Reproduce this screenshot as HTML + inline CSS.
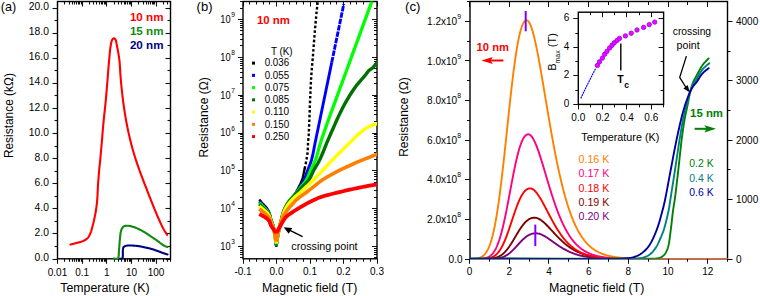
<!DOCTYPE html>
<html><head><meta charset="utf-8"><title>figure</title>
<style>html,body{margin:0;padding:0;background:#fff;width:760px;height:296px;overflow:hidden;position:relative}
svg text{font-family:"Liberation Sans", sans-serif}</style></head>
<body>
<svg width="760" height="296" viewBox="0 0 760 296" style="position:absolute;left:0;top:0" font-family='"Liberation Sans", sans-serif'>
<defs><clipPath id="clipb"><rect x="243.00" y="1.50" width="134.00" height="257.30"/></clipPath><clipPath id="clipc"><rect x="470.00" y="1.50" width="257.50" height="257.30"/></clipPath></defs>
<rect width="760" height="296" fill="#fff"/>
<line x1="52.50" y1="259.50" x2="57.50" y2="259.50" stroke="#111" stroke-width="1.1" />
<line x1="165.50" y1="259.50" x2="170.50" y2="259.50" stroke="#111" stroke-width="1.1" />
<text x="48.90" y="261.10" font-size="10.30" text-anchor="end" fill="#000" font-weight="normal" >0.0</text>
<line x1="54.50" y1="246.50" x2="57.50" y2="246.50" stroke="#111" stroke-width="1.1" />
<line x1="167.50" y1="246.50" x2="170.50" y2="246.50" stroke="#111" stroke-width="1.1" />
<line x1="52.50" y1="233.50" x2="57.50" y2="233.50" stroke="#111" stroke-width="1.1" />
<line x1="165.50" y1="233.50" x2="170.50" y2="233.50" stroke="#111" stroke-width="1.1" />
<text x="48.90" y="236.00" font-size="10.30" text-anchor="end" fill="#000" font-weight="normal" >2.0</text>
<line x1="54.50" y1="221.50" x2="57.50" y2="221.50" stroke="#111" stroke-width="1.1" />
<line x1="167.50" y1="221.50" x2="170.50" y2="221.50" stroke="#111" stroke-width="1.1" />
<line x1="52.50" y1="208.50" x2="57.50" y2="208.50" stroke="#111" stroke-width="1.1" />
<line x1="165.50" y1="208.50" x2="170.50" y2="208.50" stroke="#111" stroke-width="1.1" />
<text x="48.90" y="210.90" font-size="10.30" text-anchor="end" fill="#000" font-weight="normal" >4.0</text>
<line x1="54.50" y1="196.50" x2="57.50" y2="196.50" stroke="#111" stroke-width="1.1" />
<line x1="167.50" y1="196.50" x2="170.50" y2="196.50" stroke="#111" stroke-width="1.1" />
<line x1="52.50" y1="183.50" x2="57.50" y2="183.50" stroke="#111" stroke-width="1.1" />
<line x1="165.50" y1="183.50" x2="170.50" y2="183.50" stroke="#111" stroke-width="1.1" />
<text x="48.90" y="185.80" font-size="10.30" text-anchor="end" fill="#000" font-weight="normal" >6.0</text>
<line x1="54.50" y1="171.50" x2="57.50" y2="171.50" stroke="#111" stroke-width="1.1" />
<line x1="167.50" y1="171.50" x2="170.50" y2="171.50" stroke="#111" stroke-width="1.1" />
<line x1="52.50" y1="158.50" x2="57.50" y2="158.50" stroke="#111" stroke-width="1.1" />
<line x1="165.50" y1="158.50" x2="170.50" y2="158.50" stroke="#111" stroke-width="1.1" />
<text x="48.90" y="160.70" font-size="10.30" text-anchor="end" fill="#000" font-weight="normal" >8.0</text>
<line x1="54.50" y1="146.50" x2="57.50" y2="146.50" stroke="#111" stroke-width="1.1" />
<line x1="167.50" y1="146.50" x2="170.50" y2="146.50" stroke="#111" stroke-width="1.1" />
<line x1="52.50" y1="133.50" x2="57.50" y2="133.50" stroke="#111" stroke-width="1.1" />
<line x1="165.50" y1="133.50" x2="170.50" y2="133.50" stroke="#111" stroke-width="1.1" />
<text x="48.90" y="135.60" font-size="10.30" text-anchor="end" fill="#000" font-weight="normal" >10.0</text>
<line x1="54.50" y1="120.50" x2="57.50" y2="120.50" stroke="#111" stroke-width="1.1" />
<line x1="167.50" y1="120.50" x2="170.50" y2="120.50" stroke="#111" stroke-width="1.1" />
<line x1="52.50" y1="108.50" x2="57.50" y2="108.50" stroke="#111" stroke-width="1.1" />
<line x1="165.50" y1="108.50" x2="170.50" y2="108.50" stroke="#111" stroke-width="1.1" />
<text x="48.90" y="110.50" font-size="10.30" text-anchor="end" fill="#000" font-weight="normal" >12.0</text>
<line x1="54.50" y1="95.50" x2="57.50" y2="95.50" stroke="#111" stroke-width="1.1" />
<line x1="167.50" y1="95.50" x2="170.50" y2="95.50" stroke="#111" stroke-width="1.1" />
<line x1="52.50" y1="83.50" x2="57.50" y2="83.50" stroke="#111" stroke-width="1.1" />
<line x1="165.50" y1="83.50" x2="170.50" y2="83.50" stroke="#111" stroke-width="1.1" />
<text x="48.90" y="85.40" font-size="10.30" text-anchor="end" fill="#000" font-weight="normal" >14.0</text>
<line x1="54.50" y1="70.50" x2="57.50" y2="70.50" stroke="#111" stroke-width="1.1" />
<line x1="167.50" y1="70.50" x2="170.50" y2="70.50" stroke="#111" stroke-width="1.1" />
<line x1="52.50" y1="58.50" x2="57.50" y2="58.50" stroke="#111" stroke-width="1.1" />
<line x1="165.50" y1="58.50" x2="170.50" y2="58.50" stroke="#111" stroke-width="1.1" />
<text x="48.90" y="60.30" font-size="10.30" text-anchor="end" fill="#000" font-weight="normal" >16.0</text>
<line x1="54.50" y1="45.50" x2="57.50" y2="45.50" stroke="#111" stroke-width="1.1" />
<line x1="167.50" y1="45.50" x2="170.50" y2="45.50" stroke="#111" stroke-width="1.1" />
<line x1="52.50" y1="33.50" x2="57.50" y2="33.50" stroke="#111" stroke-width="1.1" />
<line x1="165.50" y1="33.50" x2="170.50" y2="33.50" stroke="#111" stroke-width="1.1" />
<text x="48.90" y="35.20" font-size="10.30" text-anchor="end" fill="#000" font-weight="normal" >18.0</text>
<line x1="54.50" y1="20.50" x2="57.50" y2="20.50" stroke="#111" stroke-width="1.1" />
<line x1="167.50" y1="20.50" x2="170.50" y2="20.50" stroke="#111" stroke-width="1.1" />
<line x1="52.50" y1="8.50" x2="57.50" y2="8.50" stroke="#111" stroke-width="1.1" />
<line x1="165.50" y1="8.50" x2="170.50" y2="8.50" stroke="#111" stroke-width="1.1" />
<text x="48.90" y="10.10" font-size="10.30" text-anchor="end" fill="#000" font-weight="normal" >20.0</text>
<line x1="57.50" y1="258.80" x2="57.50" y2="263.80" stroke="#111" stroke-width="1.1" />
<line x1="57.50" y1="1.50" x2="57.50" y2="6.50" stroke="#111" stroke-width="1.1" />
<line x1="64.50" y1="258.80" x2="64.50" y2="261.80" stroke="#111" stroke-width="1.1" />
<line x1="64.50" y1="1.50" x2="64.50" y2="4.50" stroke="#111" stroke-width="1.1" />
<line x1="69.50" y1="258.80" x2="69.50" y2="261.80" stroke="#111" stroke-width="1.1" />
<line x1="69.50" y1="1.50" x2="69.50" y2="4.50" stroke="#111" stroke-width="1.1" />
<line x1="72.50" y1="258.80" x2="72.50" y2="261.80" stroke="#111" stroke-width="1.1" />
<line x1="72.50" y1="1.50" x2="72.50" y2="4.50" stroke="#111" stroke-width="1.1" />
<line x1="74.50" y1="258.80" x2="74.50" y2="261.80" stroke="#111" stroke-width="1.1" />
<line x1="74.50" y1="1.50" x2="74.50" y2="4.50" stroke="#111" stroke-width="1.1" />
<line x1="76.50" y1="258.80" x2="76.50" y2="261.80" stroke="#111" stroke-width="1.1" />
<line x1="76.50" y1="1.50" x2="76.50" y2="4.50" stroke="#111" stroke-width="1.1" />
<line x1="78.50" y1="258.80" x2="78.50" y2="261.80" stroke="#111" stroke-width="1.1" />
<line x1="78.50" y1="1.50" x2="78.50" y2="4.50" stroke="#111" stroke-width="1.1" />
<line x1="79.50" y1="258.80" x2="79.50" y2="261.80" stroke="#111" stroke-width="1.1" />
<line x1="79.50" y1="1.50" x2="79.50" y2="4.50" stroke="#111" stroke-width="1.1" />
<line x1="81.50" y1="258.80" x2="81.50" y2="261.80" stroke="#111" stroke-width="1.1" />
<line x1="81.50" y1="1.50" x2="81.50" y2="4.50" stroke="#111" stroke-width="1.1" />
<line x1="82.50" y1="258.80" x2="82.50" y2="263.80" stroke="#111" stroke-width="1.1" />
<line x1="82.50" y1="1.50" x2="82.50" y2="6.50" stroke="#111" stroke-width="1.1" />
<line x1="89.50" y1="258.80" x2="89.50" y2="261.80" stroke="#111" stroke-width="1.1" />
<line x1="89.50" y1="1.50" x2="89.50" y2="4.50" stroke="#111" stroke-width="1.1" />
<line x1="93.50" y1="258.80" x2="93.50" y2="261.80" stroke="#111" stroke-width="1.1" />
<line x1="93.50" y1="1.50" x2="93.50" y2="4.50" stroke="#111" stroke-width="1.1" />
<line x1="96.50" y1="258.80" x2="96.50" y2="261.80" stroke="#111" stroke-width="1.1" />
<line x1="96.50" y1="1.50" x2="96.50" y2="4.50" stroke="#111" stroke-width="1.1" />
<line x1="99.50" y1="258.80" x2="99.50" y2="261.80" stroke="#111" stroke-width="1.1" />
<line x1="99.50" y1="1.50" x2="99.50" y2="4.50" stroke="#111" stroke-width="1.1" />
<line x1="101.50" y1="258.80" x2="101.50" y2="261.80" stroke="#111" stroke-width="1.1" />
<line x1="101.50" y1="1.50" x2="101.50" y2="4.50" stroke="#111" stroke-width="1.1" />
<line x1="102.50" y1="258.80" x2="102.50" y2="261.80" stroke="#111" stroke-width="1.1" />
<line x1="102.50" y1="1.50" x2="102.50" y2="4.50" stroke="#111" stroke-width="1.1" />
<line x1="104.50" y1="258.80" x2="104.50" y2="261.80" stroke="#111" stroke-width="1.1" />
<line x1="104.50" y1="1.50" x2="104.50" y2="4.50" stroke="#111" stroke-width="1.1" />
<line x1="105.50" y1="258.80" x2="105.50" y2="261.80" stroke="#111" stroke-width="1.1" />
<line x1="105.50" y1="1.50" x2="105.50" y2="4.50" stroke="#111" stroke-width="1.1" />
<line x1="106.50" y1="258.80" x2="106.50" y2="263.80" stroke="#111" stroke-width="1.1" />
<line x1="106.50" y1="1.50" x2="106.50" y2="6.50" stroke="#111" stroke-width="1.1" />
<line x1="114.50" y1="258.80" x2="114.50" y2="261.80" stroke="#111" stroke-width="1.1" />
<line x1="114.50" y1="1.50" x2="114.50" y2="4.50" stroke="#111" stroke-width="1.1" />
<line x1="118.50" y1="258.80" x2="118.50" y2="261.80" stroke="#111" stroke-width="1.1" />
<line x1="118.50" y1="1.50" x2="118.50" y2="4.50" stroke="#111" stroke-width="1.1" />
<line x1="121.50" y1="258.80" x2="121.50" y2="261.80" stroke="#111" stroke-width="1.1" />
<line x1="121.50" y1="1.50" x2="121.50" y2="4.50" stroke="#111" stroke-width="1.1" />
<line x1="124.50" y1="258.80" x2="124.50" y2="261.80" stroke="#111" stroke-width="1.1" />
<line x1="124.50" y1="1.50" x2="124.50" y2="4.50" stroke="#111" stroke-width="1.1" />
<line x1="125.50" y1="258.80" x2="125.50" y2="261.80" stroke="#111" stroke-width="1.1" />
<line x1="125.50" y1="1.50" x2="125.50" y2="4.50" stroke="#111" stroke-width="1.1" />
<line x1="127.50" y1="258.80" x2="127.50" y2="261.80" stroke="#111" stroke-width="1.1" />
<line x1="127.50" y1="1.50" x2="127.50" y2="4.50" stroke="#111" stroke-width="1.1" />
<line x1="129.50" y1="258.80" x2="129.50" y2="261.80" stroke="#111" stroke-width="1.1" />
<line x1="129.50" y1="1.50" x2="129.50" y2="4.50" stroke="#111" stroke-width="1.1" />
<line x1="130.50" y1="258.80" x2="130.50" y2="261.80" stroke="#111" stroke-width="1.1" />
<line x1="130.50" y1="1.50" x2="130.50" y2="4.50" stroke="#111" stroke-width="1.1" />
<line x1="131.50" y1="258.80" x2="131.50" y2="263.80" stroke="#111" stroke-width="1.1" />
<line x1="131.50" y1="1.50" x2="131.50" y2="6.50" stroke="#111" stroke-width="1.1" />
<line x1="138.50" y1="258.80" x2="138.50" y2="261.80" stroke="#111" stroke-width="1.1" />
<line x1="138.50" y1="1.50" x2="138.50" y2="4.50" stroke="#111" stroke-width="1.1" />
<line x1="143.50" y1="258.80" x2="143.50" y2="261.80" stroke="#111" stroke-width="1.1" />
<line x1="143.50" y1="1.50" x2="143.50" y2="4.50" stroke="#111" stroke-width="1.1" />
<line x1="146.50" y1="258.80" x2="146.50" y2="261.80" stroke="#111" stroke-width="1.1" />
<line x1="146.50" y1="1.50" x2="146.50" y2="4.50" stroke="#111" stroke-width="1.1" />
<line x1="148.50" y1="258.80" x2="148.50" y2="261.80" stroke="#111" stroke-width="1.1" />
<line x1="148.50" y1="1.50" x2="148.50" y2="4.50" stroke="#111" stroke-width="1.1" />
<line x1="150.50" y1="258.80" x2="150.50" y2="261.80" stroke="#111" stroke-width="1.1" />
<line x1="150.50" y1="1.50" x2="150.50" y2="4.50" stroke="#111" stroke-width="1.1" />
<line x1="152.50" y1="258.80" x2="152.50" y2="261.80" stroke="#111" stroke-width="1.1" />
<line x1="152.50" y1="1.50" x2="152.50" y2="4.50" stroke="#111" stroke-width="1.1" />
<line x1="153.50" y1="258.80" x2="153.50" y2="261.80" stroke="#111" stroke-width="1.1" />
<line x1="153.50" y1="1.50" x2="153.50" y2="4.50" stroke="#111" stroke-width="1.1" />
<line x1="154.50" y1="258.80" x2="154.50" y2="261.80" stroke="#111" stroke-width="1.1" />
<line x1="154.50" y1="1.50" x2="154.50" y2="4.50" stroke="#111" stroke-width="1.1" />
<line x1="156.50" y1="258.80" x2="156.50" y2="263.80" stroke="#111" stroke-width="1.1" />
<line x1="156.50" y1="1.50" x2="156.50" y2="6.50" stroke="#111" stroke-width="1.1" />
<line x1="163.50" y1="258.80" x2="163.50" y2="261.80" stroke="#111" stroke-width="1.1" />
<line x1="163.50" y1="1.50" x2="163.50" y2="4.50" stroke="#111" stroke-width="1.1" />
<line x1="167.50" y1="258.80" x2="167.50" y2="261.80" stroke="#111" stroke-width="1.1" />
<line x1="167.50" y1="1.50" x2="167.50" y2="4.50" stroke="#111" stroke-width="1.1" />
<line x1="170.50" y1="258.80" x2="170.50" y2="261.80" stroke="#111" stroke-width="1.1" />
<line x1="170.50" y1="1.50" x2="170.50" y2="4.50" stroke="#111" stroke-width="1.1" />
<text x="57.50" y="275.50" font-size="10.00" text-anchor="middle" fill="#000" font-weight="normal" >0.01</text>
<text x="82.15" y="275.50" font-size="10.00" text-anchor="middle" fill="#000" font-weight="normal" >0.1</text>
<text x="106.80" y="275.50" font-size="10.00" text-anchor="middle" fill="#000" font-weight="normal" >1</text>
<text x="131.45" y="275.50" font-size="10.00" text-anchor="middle" fill="#000" font-weight="normal" >10</text>
<text x="156.10" y="275.50" font-size="10.00" text-anchor="middle" fill="#000" font-weight="normal" >100</text>
<rect x="57.50" y="1.50" width="113.00" height="257.30" fill="none" stroke="#000" stroke-width="1.4"/>
<text x="60.30" y="292.00" font-size="12.00" text-anchor="start" fill="#000" font-weight="normal" textLength="89.20" lengthAdjust="spacingAndGlyphs" >Temperature (K)</text>
<text transform="translate(13.2,158.1) rotate(-90)" font-size="12" textLength="85" lengthAdjust="spacingAndGlyphs">Resistance (k&#937;)</text>
<text x="0.80" y="10.60" font-size="12.80" text-anchor="start" fill="#000" font-weight="normal" textLength="15.40" lengthAdjust="spacingAndGlyphs" >(a)</text>
<text x="129.90" y="20.80" font-size="10.00" text-anchor="start" fill="#ff0000" font-weight="bold" textLength="33.60" lengthAdjust="spacingAndGlyphs" >10 nm</text>
<text x="129.90" y="34.80" font-size="10.00" text-anchor="start" fill="#108a10" font-weight="bold" textLength="33.60" lengthAdjust="spacingAndGlyphs" >15 nm</text>
<text x="129.90" y="48.80" font-size="10.00" text-anchor="start" fill="#000080" font-weight="bold" textLength="33.60" lengthAdjust="spacingAndGlyphs" >20 nm</text>
<path d="M70.40,244.60 L70.89,244.47 L71.38,244.33 L71.87,244.20 L72.36,244.07 L72.85,243.94 L73.34,243.80 L73.84,243.67 L74.33,243.54 L74.82,243.40 L75.31,243.27 L75.81,243.14 L76.30,243.00 L76.81,242.87 L77.32,242.74 L77.84,242.61 L78.36,242.49 L78.88,242.37 L79.40,242.25 L79.92,242.12 L80.43,241.98 L80.94,241.83 L81.43,241.67 L81.92,241.49 L82.40,241.30 L82.85,241.10 L83.30,240.90 L83.75,240.69 L84.20,240.48 L84.64,240.25 L85.07,240.02 L85.50,239.77 L85.91,239.51 L86.31,239.23 L86.69,238.94 L87.05,238.63 L87.40,238.30 L87.73,237.94 L88.05,237.56 L88.35,237.16 L88.63,236.74 L88.89,236.31 L89.15,235.86 L89.39,235.40 L89.63,234.93 L89.85,234.45 L90.07,233.97 L90.29,233.49 L90.50,233.00 L90.72,232.46 L90.93,231.91 L91.13,231.34 L91.31,230.76 L91.49,230.18 L91.66,229.58 L91.82,228.98 L91.98,228.38 L92.13,227.78 L92.29,227.18 L92.44,226.59 L92.60,226.00 L92.76,225.42 L92.91,224.85 L93.06,224.28 L93.20,223.70 L93.34,223.13 L93.49,222.56 L93.62,221.98 L93.76,221.40 L93.90,220.82 L94.03,220.22 L94.17,219.62 L94.30,219.00 L94.45,218.29 L94.60,217.57 L94.75,216.84 L94.90,216.11 L95.05,215.36 L95.20,214.61 L95.34,213.85 L95.48,213.08 L95.62,212.31 L95.75,211.54 L95.88,210.77 L96.00,210.00 L96.12,209.19 L96.24,208.39 L96.35,207.59 L96.46,206.79 L96.57,205.98 L96.67,205.16 L96.76,204.34 L96.86,203.51 L96.95,202.66 L97.04,201.79 L97.12,200.91 L97.20,200.00 L97.29,198.86 L97.37,197.68 L97.44,196.47 L97.51,195.23 L97.57,193.97 L97.62,192.69 L97.68,191.40 L97.73,190.11 L97.79,188.82 L97.85,187.53 L97.92,186.26 L98.00,185.00 L98.09,183.74 L98.18,182.46 L98.27,181.18 L98.37,179.89 L98.47,178.60 L98.57,177.31 L98.68,176.03 L98.78,174.77 L98.89,173.54 L98.99,172.32 L99.10,171.14 L99.20,170.00 L99.28,169.11 L99.36,168.26 L99.44,167.44 L99.52,166.64 L99.60,165.86 L99.68,165.09 L99.77,164.31 L99.85,163.51 L99.93,162.69 L100.02,161.84 L100.11,160.95 L100.20,160.00 L100.34,158.56 L100.48,157.03 L100.63,155.41 L100.78,153.72 L100.94,151.99 L101.10,150.23 L101.26,148.45 L101.41,146.68 L101.57,144.94 L101.72,143.23 L101.86,141.58 L102.00,140.00 L102.11,138.70 L102.22,137.42 L102.32,136.15 L102.42,134.90 L102.52,133.66 L102.62,132.44 L102.72,131.24 L102.81,130.05 L102.91,128.89 L103.00,127.74 L103.10,126.61 L103.20,125.50 L103.28,124.59 L103.37,123.71 L103.45,122.85 L103.53,122.00 L103.61,121.16 L103.69,120.34 L103.78,119.52 L103.86,118.70 L103.94,117.88 L104.03,117.06 L104.11,116.24 L104.20,115.40 L104.29,114.57 L104.38,113.76 L104.46,112.96 L104.55,112.16 L104.64,111.37 L104.73,110.57 L104.83,109.76 L104.92,108.93 L105.01,108.07 L105.11,107.19 L105.20,106.26 L105.30,105.30 L105.44,103.86 L105.58,102.35 L105.73,100.77 L105.88,99.13 L106.03,97.44 L106.18,95.71 L106.33,93.95 L106.49,92.17 L106.64,90.38 L106.80,88.58 L106.95,86.78 L107.10,85.00 L107.27,83.01 L107.43,80.97 L107.59,78.88 L107.76,76.76 L107.92,74.63 L108.09,72.49 L108.25,70.36 L108.42,68.26 L108.59,66.20 L108.76,64.19 L108.93,62.26 L109.10,60.40 L109.24,58.96 L109.37,57.53 L109.50,56.10 L109.63,54.69 L109.76,53.31 L109.89,51.96 L110.03,50.65 L110.17,49.39 L110.31,48.18 L110.47,47.05 L110.63,45.98 L110.80,45.00 L110.90,44.45 L111.00,43.93 L111.09,43.42 L111.19,42.92 L111.29,42.45 L111.39,42.00 L111.50,41.57 L111.61,41.17 L111.74,40.79 L111.88,40.43 L112.03,40.10 L112.20,39.80 L112.32,39.61 L112.45,39.43 L112.58,39.25 L112.72,39.08 L112.86,38.92 L113.01,38.77 L113.16,38.64 L113.31,38.52 L113.46,38.43 L113.61,38.36 L113.76,38.32 L113.90,38.30 L114.04,38.32 L114.19,38.36 L114.34,38.43 L114.49,38.52 L114.65,38.64 L114.80,38.77 L114.94,38.92 L115.09,39.08 L115.23,39.25 L115.36,39.43 L115.48,39.61 L115.60,39.80 L115.76,40.10 L115.90,40.43 L116.01,40.79 L116.12,41.17 L116.21,41.58 L116.29,42.01 L116.37,42.46 L116.45,42.93 L116.52,43.43 L116.61,43.93 L116.70,44.46 L116.80,45.00 L117.00,45.97 L117.21,47.04 L117.43,48.19 L117.66,49.40 L117.90,50.67 L118.14,51.98 L118.37,53.31 L118.60,54.67 L118.82,56.03 L119.03,57.38 L119.21,58.70 L119.38,60.00 L119.53,61.31 L119.65,62.63 L119.76,63.96 L119.86,65.29 L119.94,66.62 L120.02,67.96 L120.10,69.30 L120.17,70.65 L120.24,71.99 L120.33,73.33 L120.42,74.67 L120.52,76.00 L120.63,77.34 L120.75,78.68 L120.86,80.03 L120.98,81.37 L121.10,82.72 L121.23,84.07 L121.36,85.41 L121.49,86.75 L121.62,88.08 L121.75,89.40 L121.89,90.70 L122.03,92.00 L122.16,93.21 L122.30,94.41 L122.44,95.61 L122.58,96.80 L122.73,97.99 L122.87,99.17 L123.02,100.34 L123.17,101.50 L123.32,102.64 L123.47,103.78 L123.63,104.90 L123.78,106.00 L123.92,106.96 L124.05,107.91 L124.19,108.85 L124.33,109.77 L124.46,110.68 L124.60,111.59 L124.75,112.49 L124.89,113.39 L125.03,114.28 L125.18,115.18 L125.33,116.09 L125.49,117.00 L125.65,117.92 L125.81,118.84 L125.97,119.77 L126.14,120.69 L126.31,121.61 L126.48,122.54 L126.66,123.46 L126.83,124.38 L127.01,125.29 L127.19,126.20 L127.37,127.10 L127.55,128.00 L127.72,128.85 L127.90,129.70 L128.08,130.54 L128.25,131.37 L128.43,132.20 L128.61,133.03 L128.80,133.86 L128.98,134.69 L129.17,135.51 L129.36,136.34 L129.55,137.17 L129.75,138.00 L129.95,138.83 L130.15,139.66 L130.35,140.48 L130.56,141.30 L130.76,142.13 L130.97,142.95 L131.18,143.78 L131.40,144.61 L131.62,145.44 L131.85,146.28 L132.08,147.14 L132.32,148.00 L132.59,148.97 L132.87,149.95 L133.15,150.94 L133.45,151.95 L133.74,152.96 L134.05,153.97 L134.35,154.99 L134.66,156.01 L134.98,157.02 L135.29,158.02 L135.60,159.02 L135.92,160.00 L136.23,160.94 L136.53,161.87 L136.85,162.80 L137.16,163.73 L137.48,164.65 L137.80,165.57 L138.12,166.49 L138.44,167.40 L138.76,168.30 L139.08,169.21 L139.41,170.11 L139.73,171.00 L140.04,171.85 L140.35,172.70 L140.66,173.55 L140.98,174.39 L141.29,175.23 L141.60,176.07 L141.92,176.90 L142.23,177.73 L142.55,178.55 L142.86,179.37 L143.17,180.19 L143.48,181.00 L143.77,181.77 L144.06,182.52 L144.35,183.27 L144.64,184.02 L144.92,184.76 L145.21,185.50 L145.50,186.24 L145.79,186.98 L146.08,187.73 L146.37,188.48 L146.66,189.24 L146.96,190.00 L147.28,190.82 L147.60,191.64 L147.92,192.46 L148.24,193.30 L148.57,194.13 L148.90,194.97 L149.23,195.81 L149.56,196.65 L149.89,197.49 L150.22,198.33 L150.55,199.17 L150.88,200.00 L151.21,200.83 L151.54,201.67 L151.87,202.50 L152.20,203.34 L152.54,204.17 L152.87,205.00 L153.20,205.84 L153.54,206.67 L153.88,207.50 L154.21,208.34 L154.56,209.17 L154.90,210.00 L155.25,210.84 L155.60,211.68 L155.95,212.52 L156.30,213.36 L156.66,214.20 L157.02,215.04 L157.38,215.88 L157.74,216.71 L158.10,217.54 L158.46,218.37 L158.83,219.19 L159.19,220.00 L159.54,220.78 L159.89,221.56 L160.24,222.34 L160.60,223.12 L160.95,223.90 L161.31,224.67 L161.66,225.43 L162.02,226.18 L162.38,226.92 L162.74,227.63 L163.10,228.33 L163.46,229.00 L163.76,229.54 L164.06,230.05 L164.36,230.56 L164.67,231.04 L164.97,231.52 L165.27,231.99 L165.58,232.46 L165.88,232.92 L166.19,233.39 L166.49,233.85 L166.80,234.32 L167.10,234.80" fill="none" stroke="#ff0000" stroke-width="2.1" stroke-linejoin="round" stroke-linecap="round" />
<path d="M113.80,258.60 L114.14,258.61 L114.50,258.64 L114.86,258.68 L115.23,258.74 L115.60,258.79 L115.96,258.84 L116.32,258.87 L116.66,258.88 L116.98,258.85 L117.28,258.78 L117.56,258.67 L117.80,258.50 L118.10,258.14 L118.32,257.67 L118.50,257.10 L118.62,256.44 L118.71,255.71 L118.77,254.93 L118.81,254.12 L118.83,253.28 L118.86,252.43 L118.89,251.59 L118.93,250.78 L119.00,250.00 L119.09,249.15 L119.17,248.28 L119.25,247.39 L119.31,246.49 L119.38,245.58 L119.45,244.67 L119.51,243.75 L119.58,242.84 L119.65,241.94 L119.72,241.04 L119.81,240.16 L119.90,239.30 L119.98,238.51 L120.06,237.70 L120.14,236.89 L120.21,236.08 L120.29,235.27 L120.37,234.48 L120.47,233.70 L120.57,232.95 L120.70,232.23 L120.84,231.54 L121.01,230.90 L121.20,230.30 L121.35,229.91 L121.50,229.53 L121.66,229.16 L121.82,228.81 L122.00,228.47 L122.18,228.14 L122.37,227.84 L122.57,227.55 L122.78,227.28 L123.01,227.03 L123.25,226.80 L123.50,226.60 L123.74,226.44 L123.99,226.30 L124.26,226.17 L124.53,226.07 L124.81,225.98 L125.11,225.91 L125.40,225.85 L125.71,225.80 L126.03,225.76 L126.34,225.73 L126.67,225.71 L127.00,225.70 L127.44,225.70 L127.91,225.72 L128.39,225.77 L128.89,225.83 L129.40,225.92 L129.92,226.02 L130.45,226.13 L130.97,226.25 L131.49,226.38 L132.01,226.52 L132.51,226.66 L133.00,226.80 L133.47,226.94 L133.94,227.09 L134.40,227.25 L134.85,227.42 L135.31,227.59 L135.76,227.78 L136.21,227.96 L136.66,228.16 L137.11,228.36 L137.57,228.57 L138.03,228.78 L138.50,229.00 L139.03,229.25 L139.56,229.51 L140.10,229.78 L140.65,230.06 L141.20,230.35 L141.74,230.64 L142.29,230.94 L142.84,231.24 L143.39,231.55 L143.93,231.87 L144.47,232.18 L145.00,232.50 L145.54,232.83 L146.07,233.16 L146.60,233.50 L147.13,233.85 L147.65,234.21 L148.17,234.56 L148.70,234.92 L149.22,235.28 L149.74,235.64 L150.26,235.99 L150.78,236.35 L151.30,236.70 L151.82,237.04 L152.34,237.39 L152.86,237.74 L153.39,238.08 L153.91,238.43 L154.43,238.77 L154.95,239.12 L155.46,239.46 L155.96,239.80 L156.46,240.14 L156.94,240.47 L157.40,240.80 L157.78,241.08 L158.16,241.36 L158.53,241.64 L158.89,241.92 L159.25,242.20 L159.60,242.47 L159.94,242.75 L160.28,243.01 L160.62,243.27 L160.95,243.52 L161.28,243.77 L161.60,244.00 L161.86,244.18 L162.11,244.36 L162.35,244.54 L162.59,244.71 L162.83,244.87 L163.06,245.04 L163.30,245.19 L163.53,245.35 L163.77,245.49 L164.01,245.64 L164.25,245.77 L164.50,245.90 L164.74,246.02 L164.99,246.12 L165.24,246.22 L165.48,246.32 L165.74,246.41 L165.99,246.49 L166.24,246.58 L166.49,246.66 L166.75,246.74 L167.00,246.82 L167.25,246.91 L167.50,247.00" fill="none" stroke="#108a10" stroke-width="2.1" stroke-linejoin="round" stroke-linecap="round" />
<path d="M120.00,258.80 L120.20,258.77 L120.40,258.75 L120.61,258.74 L120.82,258.73 L121.03,258.73 L121.24,258.72 L121.44,258.70 L121.64,258.67 L121.82,258.62 L122.00,258.54 L122.16,258.44 L122.30,258.30 L122.52,257.93 L122.68,257.42 L122.78,256.80 L122.84,256.08 L122.87,255.30 L122.87,254.47 L122.86,253.63 L122.84,252.79 L122.83,251.99 L122.83,251.24 L122.85,250.57 L122.90,250.00 L122.94,249.71 L122.97,249.42 L123.00,249.15 L123.03,248.89 L123.06,248.64 L123.10,248.40 L123.14,248.17 L123.19,247.95 L123.24,247.74 L123.31,247.55 L123.40,247.37 L123.50,247.20 L123.59,247.08 L123.69,246.97 L123.80,246.86 L123.91,246.77 L124.03,246.69 L124.16,246.61 L124.29,246.53 L124.42,246.46 L124.56,246.40 L124.71,246.33 L124.85,246.27 L125.00,246.20 L125.18,246.12 L125.37,246.04 L125.57,245.97 L125.77,245.90 L125.97,245.84 L126.18,245.77 L126.40,245.72 L126.63,245.66 L126.86,245.62 L127.10,245.57 L127.35,245.53 L127.60,245.50 L127.98,245.46 L128.38,245.44 L128.81,245.43 L129.25,245.42 L129.71,245.43 L130.17,245.45 L130.65,245.47 L131.12,245.49 L131.60,245.52 L132.07,245.55 L132.54,245.57 L133.00,245.60 L133.46,245.63 L133.91,245.65 L134.36,245.68 L134.82,245.71 L135.27,245.75 L135.72,245.78 L136.18,245.82 L136.63,245.87 L137.10,245.92 L137.56,245.97 L138.03,246.03 L138.50,246.10 L139.02,246.18 L139.56,246.27 L140.09,246.36 L140.63,246.47 L141.18,246.57 L141.73,246.69 L142.28,246.80 L142.82,246.92 L143.37,247.04 L143.92,247.16 L144.46,247.28 L145.00,247.40 L145.53,247.52 L146.06,247.63 L146.59,247.75 L147.12,247.87 L147.64,247.98 L148.17,248.10 L148.69,248.23 L149.22,248.35 L149.74,248.48 L150.26,248.62 L150.78,248.76 L151.30,248.90 L151.82,249.05 L152.34,249.21 L152.86,249.37 L153.39,249.53 L153.91,249.70 L154.43,249.87 L154.95,250.05 L155.46,250.22 L155.96,250.39 L156.45,250.57 L156.93,250.74 L157.40,250.90 L157.78,251.04 L158.14,251.17 L158.49,251.30 L158.83,251.43 L159.17,251.57 L159.50,251.70 L159.84,251.83 L160.18,251.96 L160.52,252.10 L160.87,252.23 L161.23,252.36 L161.60,252.50 L162.06,252.66 L162.52,252.83 L163.00,252.99 L163.49,253.16 L163.99,253.32 L164.49,253.49 L164.99,253.66 L165.50,253.83 L166.00,254.00 L166.50,254.17 L167.01,254.33 L167.50,254.50" fill="none" stroke="#000080" stroke-width="2.1" stroke-linejoin="round" stroke-linecap="round" />
<line x1="240.00" y1="257.50" x2="243.00" y2="257.50" stroke="#111" stroke-width="1.0" />
<line x1="374.00" y1="257.50" x2="377.00" y2="257.50" stroke="#111" stroke-width="1.0" />
<line x1="240.00" y1="254.50" x2="243.00" y2="254.50" stroke="#111" stroke-width="1.0" />
<line x1="374.00" y1="254.50" x2="377.00" y2="254.50" stroke="#111" stroke-width="1.0" />
<line x1="240.00" y1="252.50" x2="243.00" y2="252.50" stroke="#111" stroke-width="1.0" />
<line x1="374.00" y1="252.50" x2="377.00" y2="252.50" stroke="#111" stroke-width="1.0" />
<line x1="240.00" y1="250.50" x2="243.00" y2="250.50" stroke="#111" stroke-width="1.0" />
<line x1="374.00" y1="250.50" x2="377.00" y2="250.50" stroke="#111" stroke-width="1.0" />
<line x1="240.00" y1="248.50" x2="243.00" y2="248.50" stroke="#111" stroke-width="1.0" />
<line x1="374.00" y1="248.50" x2="377.00" y2="248.50" stroke="#111" stroke-width="1.0" />
<line x1="238.00" y1="246.50" x2="243.00" y2="246.50" stroke="#111" stroke-width="1.0" />
<line x1="372.00" y1="246.50" x2="377.00" y2="246.50" stroke="#111" stroke-width="1.0" />
<line x1="240.00" y1="235.50" x2="243.00" y2="235.50" stroke="#111" stroke-width="1.0" />
<line x1="374.00" y1="235.50" x2="377.00" y2="235.50" stroke="#111" stroke-width="1.0" />
<line x1="240.00" y1="228.50" x2="243.00" y2="228.50" stroke="#111" stroke-width="1.0" />
<line x1="374.00" y1="228.50" x2="377.00" y2="228.50" stroke="#111" stroke-width="1.0" />
<line x1="240.00" y1="223.50" x2="243.00" y2="223.50" stroke="#111" stroke-width="1.0" />
<line x1="374.00" y1="223.50" x2="377.00" y2="223.50" stroke="#111" stroke-width="1.0" />
<line x1="240.00" y1="220.50" x2="243.00" y2="220.50" stroke="#111" stroke-width="1.0" />
<line x1="374.00" y1="220.50" x2="377.00" y2="220.50" stroke="#111" stroke-width="1.0" />
<line x1="240.00" y1="217.50" x2="243.00" y2="217.50" stroke="#111" stroke-width="1.0" />
<line x1="374.00" y1="217.50" x2="377.00" y2="217.50" stroke="#111" stroke-width="1.0" />
<line x1="240.00" y1="214.50" x2="243.00" y2="214.50" stroke="#111" stroke-width="1.0" />
<line x1="374.00" y1="214.50" x2="377.00" y2="214.50" stroke="#111" stroke-width="1.0" />
<line x1="240.00" y1="212.50" x2="243.00" y2="212.50" stroke="#111" stroke-width="1.0" />
<line x1="374.00" y1="212.50" x2="377.00" y2="212.50" stroke="#111" stroke-width="1.0" />
<line x1="240.00" y1="210.50" x2="243.00" y2="210.50" stroke="#111" stroke-width="1.0" />
<line x1="374.00" y1="210.50" x2="377.00" y2="210.50" stroke="#111" stroke-width="1.0" />
<line x1="238.00" y1="208.50" x2="243.00" y2="208.50" stroke="#111" stroke-width="1.0" />
<line x1="372.00" y1="208.50" x2="377.00" y2="208.50" stroke="#111" stroke-width="1.0" />
<line x1="240.00" y1="197.50" x2="243.00" y2="197.50" stroke="#111" stroke-width="1.0" />
<line x1="374.00" y1="197.50" x2="377.00" y2="197.50" stroke="#111" stroke-width="1.0" />
<line x1="240.00" y1="190.50" x2="243.00" y2="190.50" stroke="#111" stroke-width="1.0" />
<line x1="374.00" y1="190.50" x2="377.00" y2="190.50" stroke="#111" stroke-width="1.0" />
<line x1="240.00" y1="185.50" x2="243.00" y2="185.50" stroke="#111" stroke-width="1.0" />
<line x1="374.00" y1="185.50" x2="377.00" y2="185.50" stroke="#111" stroke-width="1.0" />
<line x1="240.00" y1="182.50" x2="243.00" y2="182.50" stroke="#111" stroke-width="1.0" />
<line x1="374.00" y1="182.50" x2="377.00" y2="182.50" stroke="#111" stroke-width="1.0" />
<line x1="240.00" y1="179.50" x2="243.00" y2="179.50" stroke="#111" stroke-width="1.0" />
<line x1="374.00" y1="179.50" x2="377.00" y2="179.50" stroke="#111" stroke-width="1.0" />
<line x1="240.00" y1="176.50" x2="243.00" y2="176.50" stroke="#111" stroke-width="1.0" />
<line x1="374.00" y1="176.50" x2="377.00" y2="176.50" stroke="#111" stroke-width="1.0" />
<line x1="240.00" y1="174.50" x2="243.00" y2="174.50" stroke="#111" stroke-width="1.0" />
<line x1="374.00" y1="174.50" x2="377.00" y2="174.50" stroke="#111" stroke-width="1.0" />
<line x1="240.00" y1="172.50" x2="243.00" y2="172.50" stroke="#111" stroke-width="1.0" />
<line x1="374.00" y1="172.50" x2="377.00" y2="172.50" stroke="#111" stroke-width="1.0" />
<line x1="238.00" y1="170.50" x2="243.00" y2="170.50" stroke="#111" stroke-width="1.0" />
<line x1="372.00" y1="170.50" x2="377.00" y2="170.50" stroke="#111" stroke-width="1.0" />
<line x1="240.00" y1="159.50" x2="243.00" y2="159.50" stroke="#111" stroke-width="1.0" />
<line x1="374.00" y1="159.50" x2="377.00" y2="159.50" stroke="#111" stroke-width="1.0" />
<line x1="240.00" y1="152.50" x2="243.00" y2="152.50" stroke="#111" stroke-width="1.0" />
<line x1="374.00" y1="152.50" x2="377.00" y2="152.50" stroke="#111" stroke-width="1.0" />
<line x1="240.00" y1="148.50" x2="243.00" y2="148.50" stroke="#111" stroke-width="1.0" />
<line x1="374.00" y1="148.50" x2="377.00" y2="148.50" stroke="#111" stroke-width="1.0" />
<line x1="240.00" y1="144.50" x2="243.00" y2="144.50" stroke="#111" stroke-width="1.0" />
<line x1="374.00" y1="144.50" x2="377.00" y2="144.50" stroke="#111" stroke-width="1.0" />
<line x1="240.00" y1="141.50" x2="243.00" y2="141.50" stroke="#111" stroke-width="1.0" />
<line x1="374.00" y1="141.50" x2="377.00" y2="141.50" stroke="#111" stroke-width="1.0" />
<line x1="240.00" y1="138.50" x2="243.00" y2="138.50" stroke="#111" stroke-width="1.0" />
<line x1="374.00" y1="138.50" x2="377.00" y2="138.50" stroke="#111" stroke-width="1.0" />
<line x1="240.00" y1="136.50" x2="243.00" y2="136.50" stroke="#111" stroke-width="1.0" />
<line x1="374.00" y1="136.50" x2="377.00" y2="136.50" stroke="#111" stroke-width="1.0" />
<line x1="240.00" y1="134.50" x2="243.00" y2="134.50" stroke="#111" stroke-width="1.0" />
<line x1="374.00" y1="134.50" x2="377.00" y2="134.50" stroke="#111" stroke-width="1.0" />
<line x1="238.00" y1="133.50" x2="243.00" y2="133.50" stroke="#111" stroke-width="1.0" />
<line x1="372.00" y1="133.50" x2="377.00" y2="133.50" stroke="#111" stroke-width="1.0" />
<line x1="240.00" y1="121.50" x2="243.00" y2="121.50" stroke="#111" stroke-width="1.0" />
<line x1="374.00" y1="121.50" x2="377.00" y2="121.50" stroke="#111" stroke-width="1.0" />
<line x1="240.00" y1="114.50" x2="243.00" y2="114.50" stroke="#111" stroke-width="1.0" />
<line x1="374.00" y1="114.50" x2="377.00" y2="114.50" stroke="#111" stroke-width="1.0" />
<line x1="240.00" y1="110.50" x2="243.00" y2="110.50" stroke="#111" stroke-width="1.0" />
<line x1="374.00" y1="110.50" x2="377.00" y2="110.50" stroke="#111" stroke-width="1.0" />
<line x1="240.00" y1="106.50" x2="243.00" y2="106.50" stroke="#111" stroke-width="1.0" />
<line x1="374.00" y1="106.50" x2="377.00" y2="106.50" stroke="#111" stroke-width="1.0" />
<line x1="240.00" y1="103.50" x2="243.00" y2="103.50" stroke="#111" stroke-width="1.0" />
<line x1="374.00" y1="103.50" x2="377.00" y2="103.50" stroke="#111" stroke-width="1.0" />
<line x1="240.00" y1="101.50" x2="243.00" y2="101.50" stroke="#111" stroke-width="1.0" />
<line x1="374.00" y1="101.50" x2="377.00" y2="101.50" stroke="#111" stroke-width="1.0" />
<line x1="240.00" y1="98.50" x2="243.00" y2="98.50" stroke="#111" stroke-width="1.0" />
<line x1="374.00" y1="98.50" x2="377.00" y2="98.50" stroke="#111" stroke-width="1.0" />
<line x1="240.00" y1="96.50" x2="243.00" y2="96.50" stroke="#111" stroke-width="1.0" />
<line x1="374.00" y1="96.50" x2="377.00" y2="96.50" stroke="#111" stroke-width="1.0" />
<line x1="238.00" y1="95.50" x2="243.00" y2="95.50" stroke="#111" stroke-width="1.0" />
<line x1="372.00" y1="95.50" x2="377.00" y2="95.50" stroke="#111" stroke-width="1.0" />
<line x1="240.00" y1="83.50" x2="243.00" y2="83.50" stroke="#111" stroke-width="1.0" />
<line x1="374.00" y1="83.50" x2="377.00" y2="83.50" stroke="#111" stroke-width="1.0" />
<line x1="240.00" y1="77.50" x2="243.00" y2="77.50" stroke="#111" stroke-width="1.0" />
<line x1="374.00" y1="77.50" x2="377.00" y2="77.50" stroke="#111" stroke-width="1.0" />
<line x1="240.00" y1="72.50" x2="243.00" y2="72.50" stroke="#111" stroke-width="1.0" />
<line x1="374.00" y1="72.50" x2="377.00" y2="72.50" stroke="#111" stroke-width="1.0" />
<line x1="240.00" y1="68.50" x2="243.00" y2="68.50" stroke="#111" stroke-width="1.0" />
<line x1="374.00" y1="68.50" x2="377.00" y2="68.50" stroke="#111" stroke-width="1.0" />
<line x1="240.00" y1="65.50" x2="243.00" y2="65.50" stroke="#111" stroke-width="1.0" />
<line x1="374.00" y1="65.50" x2="377.00" y2="65.50" stroke="#111" stroke-width="1.0" />
<line x1="240.00" y1="63.50" x2="243.00" y2="63.50" stroke="#111" stroke-width="1.0" />
<line x1="374.00" y1="63.50" x2="377.00" y2="63.50" stroke="#111" stroke-width="1.0" />
<line x1="240.00" y1="61.50" x2="243.00" y2="61.50" stroke="#111" stroke-width="1.0" />
<line x1="374.00" y1="61.50" x2="377.00" y2="61.50" stroke="#111" stroke-width="1.0" />
<line x1="240.00" y1="59.50" x2="243.00" y2="59.50" stroke="#111" stroke-width="1.0" />
<line x1="374.00" y1="59.50" x2="377.00" y2="59.50" stroke="#111" stroke-width="1.0" />
<line x1="238.00" y1="57.50" x2="243.00" y2="57.50" stroke="#111" stroke-width="1.0" />
<line x1="372.00" y1="57.50" x2="377.00" y2="57.50" stroke="#111" stroke-width="1.0" />
<line x1="240.00" y1="45.50" x2="243.00" y2="45.50" stroke="#111" stroke-width="1.0" />
<line x1="374.00" y1="45.50" x2="377.00" y2="45.50" stroke="#111" stroke-width="1.0" />
<line x1="240.00" y1="39.50" x2="243.00" y2="39.50" stroke="#111" stroke-width="1.0" />
<line x1="374.00" y1="39.50" x2="377.00" y2="39.50" stroke="#111" stroke-width="1.0" />
<line x1="240.00" y1="34.50" x2="243.00" y2="34.50" stroke="#111" stroke-width="1.0" />
<line x1="374.00" y1="34.50" x2="377.00" y2="34.50" stroke="#111" stroke-width="1.0" />
<line x1="240.00" y1="30.50" x2="243.00" y2="30.50" stroke="#111" stroke-width="1.0" />
<line x1="374.00" y1="30.50" x2="377.00" y2="30.50" stroke="#111" stroke-width="1.0" />
<line x1="240.00" y1="27.50" x2="243.00" y2="27.50" stroke="#111" stroke-width="1.0" />
<line x1="374.00" y1="27.50" x2="377.00" y2="27.50" stroke="#111" stroke-width="1.0" />
<line x1="240.00" y1="25.50" x2="243.00" y2="25.50" stroke="#111" stroke-width="1.0" />
<line x1="374.00" y1="25.50" x2="377.00" y2="25.50" stroke="#111" stroke-width="1.0" />
<line x1="240.00" y1="23.50" x2="243.00" y2="23.50" stroke="#111" stroke-width="1.0" />
<line x1="374.00" y1="23.50" x2="377.00" y2="23.50" stroke="#111" stroke-width="1.0" />
<line x1="240.00" y1="21.50" x2="243.00" y2="21.50" stroke="#111" stroke-width="1.0" />
<line x1="374.00" y1="21.50" x2="377.00" y2="21.50" stroke="#111" stroke-width="1.0" />
<line x1="238.00" y1="19.50" x2="243.00" y2="19.50" stroke="#111" stroke-width="1.0" />
<line x1="372.00" y1="19.50" x2="377.00" y2="19.50" stroke="#111" stroke-width="1.0" />
<line x1="240.00" y1="8.50" x2="243.00" y2="8.50" stroke="#111" stroke-width="1.0" />
<line x1="374.00" y1="8.50" x2="377.00" y2="8.50" stroke="#111" stroke-width="1.0" />
<line x1="240.00" y1="1.50" x2="243.00" y2="1.50" stroke="#111" stroke-width="1.0" />
<line x1="374.00" y1="1.50" x2="377.00" y2="1.50" stroke="#111" stroke-width="1.0" />
<text x="220.30" y="250.00" font-size="10.80" text-anchor="start" fill="#000" font-weight="normal" textLength="10.30" lengthAdjust="spacingAndGlyphs" >10</text>
<text x="231.30" y="244.20" font-size="6.60" text-anchor="start" fill="#000" font-weight="normal" >3</text>
<text x="220.30" y="212.15" font-size="10.80" text-anchor="start" fill="#000" font-weight="normal" textLength="10.30" lengthAdjust="spacingAndGlyphs" >10</text>
<text x="231.30" y="206.35" font-size="6.60" text-anchor="start" fill="#000" font-weight="normal" >4</text>
<text x="220.30" y="174.30" font-size="10.80" text-anchor="start" fill="#000" font-weight="normal" textLength="10.30" lengthAdjust="spacingAndGlyphs" >10</text>
<text x="231.30" y="168.50" font-size="6.60" text-anchor="start" fill="#000" font-weight="normal" >5</text>
<text x="220.30" y="136.45" font-size="10.80" text-anchor="start" fill="#000" font-weight="normal" textLength="10.30" lengthAdjust="spacingAndGlyphs" >10</text>
<text x="231.30" y="130.65" font-size="6.60" text-anchor="start" fill="#000" font-weight="normal" >6</text>
<text x="220.30" y="98.60" font-size="10.80" text-anchor="start" fill="#000" font-weight="normal" textLength="10.30" lengthAdjust="spacingAndGlyphs" >10</text>
<text x="231.30" y="92.80" font-size="6.60" text-anchor="start" fill="#000" font-weight="normal" >7</text>
<text x="220.30" y="60.75" font-size="10.80" text-anchor="start" fill="#000" font-weight="normal" textLength="10.30" lengthAdjust="spacingAndGlyphs" >10</text>
<text x="231.30" y="54.95" font-size="6.60" text-anchor="start" fill="#000" font-weight="normal" >8</text>
<text x="220.30" y="22.90" font-size="10.80" text-anchor="start" fill="#000" font-weight="normal" textLength="10.30" lengthAdjust="spacingAndGlyphs" >10</text>
<text x="231.30" y="17.10" font-size="6.60" text-anchor="start" fill="#000" font-weight="normal" >9</text>
<line x1="243.50" y1="258.80" x2="243.50" y2="263.80" stroke="#111" stroke-width="1.0" />
<line x1="243.50" y1="1.50" x2="243.50" y2="6.50" stroke="#111" stroke-width="1.0" />
<line x1="249.50" y1="258.80" x2="249.50" y2="261.80" stroke="#111" stroke-width="1.0" />
<line x1="249.50" y1="1.50" x2="249.50" y2="4.50" stroke="#111" stroke-width="1.0" />
<line x1="256.50" y1="258.80" x2="256.50" y2="261.80" stroke="#111" stroke-width="1.0" />
<line x1="256.50" y1="1.50" x2="256.50" y2="4.50" stroke="#111" stroke-width="1.0" />
<line x1="263.50" y1="258.80" x2="263.50" y2="261.80" stroke="#111" stroke-width="1.0" />
<line x1="263.50" y1="1.50" x2="263.50" y2="4.50" stroke="#111" stroke-width="1.0" />
<line x1="269.50" y1="258.80" x2="269.50" y2="261.80" stroke="#111" stroke-width="1.0" />
<line x1="269.50" y1="1.50" x2="269.50" y2="4.50" stroke="#111" stroke-width="1.0" />
<line x1="276.50" y1="258.80" x2="276.50" y2="263.80" stroke="#111" stroke-width="1.0" />
<line x1="276.50" y1="1.50" x2="276.50" y2="6.50" stroke="#111" stroke-width="1.0" />
<line x1="283.50" y1="258.80" x2="283.50" y2="261.80" stroke="#111" stroke-width="1.0" />
<line x1="283.50" y1="1.50" x2="283.50" y2="4.50" stroke="#111" stroke-width="1.0" />
<line x1="289.50" y1="258.80" x2="289.50" y2="261.80" stroke="#111" stroke-width="1.0" />
<line x1="289.50" y1="1.50" x2="289.50" y2="4.50" stroke="#111" stroke-width="1.0" />
<line x1="296.50" y1="258.80" x2="296.50" y2="261.80" stroke="#111" stroke-width="1.0" />
<line x1="296.50" y1="1.50" x2="296.50" y2="4.50" stroke="#111" stroke-width="1.0" />
<line x1="303.50" y1="258.80" x2="303.50" y2="261.80" stroke="#111" stroke-width="1.0" />
<line x1="303.50" y1="1.50" x2="303.50" y2="4.50" stroke="#111" stroke-width="1.0" />
<line x1="310.50" y1="258.80" x2="310.50" y2="263.80" stroke="#111" stroke-width="1.0" />
<line x1="310.50" y1="1.50" x2="310.50" y2="6.50" stroke="#111" stroke-width="1.0" />
<line x1="316.50" y1="258.80" x2="316.50" y2="261.80" stroke="#111" stroke-width="1.0" />
<line x1="316.50" y1="1.50" x2="316.50" y2="4.50" stroke="#111" stroke-width="1.0" />
<line x1="323.50" y1="258.80" x2="323.50" y2="261.80" stroke="#111" stroke-width="1.0" />
<line x1="323.50" y1="1.50" x2="323.50" y2="4.50" stroke="#111" stroke-width="1.0" />
<line x1="330.50" y1="258.80" x2="330.50" y2="261.80" stroke="#111" stroke-width="1.0" />
<line x1="330.50" y1="1.50" x2="330.50" y2="4.50" stroke="#111" stroke-width="1.0" />
<line x1="336.50" y1="258.80" x2="336.50" y2="261.80" stroke="#111" stroke-width="1.0" />
<line x1="336.50" y1="1.50" x2="336.50" y2="4.50" stroke="#111" stroke-width="1.0" />
<line x1="343.50" y1="258.80" x2="343.50" y2="263.80" stroke="#111" stroke-width="1.0" />
<line x1="343.50" y1="1.50" x2="343.50" y2="6.50" stroke="#111" stroke-width="1.0" />
<line x1="350.50" y1="258.80" x2="350.50" y2="261.80" stroke="#111" stroke-width="1.0" />
<line x1="350.50" y1="1.50" x2="350.50" y2="4.50" stroke="#111" stroke-width="1.0" />
<line x1="356.50" y1="258.80" x2="356.50" y2="261.80" stroke="#111" stroke-width="1.0" />
<line x1="356.50" y1="1.50" x2="356.50" y2="4.50" stroke="#111" stroke-width="1.0" />
<line x1="363.50" y1="258.80" x2="363.50" y2="261.80" stroke="#111" stroke-width="1.0" />
<line x1="363.50" y1="1.50" x2="363.50" y2="4.50" stroke="#111" stroke-width="1.0" />
<line x1="370.50" y1="258.80" x2="370.50" y2="261.80" stroke="#111" stroke-width="1.0" />
<line x1="370.50" y1="1.50" x2="370.50" y2="4.50" stroke="#111" stroke-width="1.0" />
<line x1="377.50" y1="258.80" x2="377.50" y2="263.80" stroke="#111" stroke-width="1.0" />
<line x1="377.50" y1="1.50" x2="377.50" y2="6.50" stroke="#111" stroke-width="1.0" />
<text x="243.00" y="275.40" font-size="10.00" text-anchor="middle" fill="#000" font-weight="normal" >-0.1</text>
<text x="276.50" y="275.40" font-size="10.00" text-anchor="middle" fill="#000" font-weight="normal" >0.0</text>
<text x="310.00" y="275.40" font-size="10.00" text-anchor="middle" fill="#000" font-weight="normal" >0.1</text>
<text x="343.50" y="275.40" font-size="10.00" text-anchor="middle" fill="#000" font-weight="normal" >0.2</text>
<text x="377.00" y="275.40" font-size="10.00" text-anchor="middle" fill="#000" font-weight="normal" >0.3</text>
<rect x="243.00" y="1.50" width="134.00" height="257.30" fill="none" stroke="#000" stroke-width="1.4"/>
<text x="262.00" y="291.50" font-size="12.00" text-anchor="start" fill="#000" font-weight="normal" textLength="95.40" lengthAdjust="spacingAndGlyphs" >Magnetic field (T)</text>
<text transform="translate(207.6,157.4) rotate(-90)" font-size="12" textLength="80.2" lengthAdjust="spacingAndGlyphs">Resistance (&#937;)</text>
<text x="196.60" y="11.20" font-size="12.80" text-anchor="start" fill="#000" font-weight="normal" textLength="15.90" lengthAdjust="spacingAndGlyphs" >(b)</text>
<text x="257.00" y="23.70" font-size="10.00" text-anchor="start" fill="#ff0000" font-weight="bold" textLength="33.00" lengthAdjust="spacingAndGlyphs" >10 nm</text>
<text x="270.90" y="54.90" font-size="10.40" text-anchor="start" fill="#000" font-weight="normal" textLength="21.70" lengthAdjust="spacingAndGlyphs" >T (K)</text>
<rect x="252.00" y="61.60" width="3" height="3" fill="#000000"/>
<text x="264.70" y="66.40" font-size="10.00" text-anchor="start" fill="#000" font-weight="normal" textLength="24.40" lengthAdjust="spacingAndGlyphs" >0.036</text>
<rect x="252.00" y="73.85" width="3" height="3" fill="#0000ff"/>
<text x="264.70" y="78.65" font-size="10.00" text-anchor="start" fill="#000" font-weight="normal" textLength="24.40" lengthAdjust="spacingAndGlyphs" >0.055</text>
<rect x="252.00" y="86.10" width="3" height="3" fill="#00ff00"/>
<text x="264.70" y="90.90" font-size="10.00" text-anchor="start" fill="#000" font-weight="normal" textLength="24.40" lengthAdjust="spacingAndGlyphs" >0.075</text>
<rect x="252.00" y="98.35" width="3" height="3" fill="#007000"/>
<text x="264.70" y="103.15" font-size="10.00" text-anchor="start" fill="#000" font-weight="normal" textLength="24.40" lengthAdjust="spacingAndGlyphs" >0.085</text>
<rect x="252.00" y="110.60" width="3" height="3" fill="#ffff00"/>
<text x="264.70" y="115.40" font-size="10.00" text-anchor="start" fill="#000" font-weight="normal" textLength="24.40" lengthAdjust="spacingAndGlyphs" >0.110</text>
<rect x="252.00" y="122.85" width="3" height="3" fill="#ff8000"/>
<text x="264.70" y="127.65" font-size="10.00" text-anchor="start" fill="#000" font-weight="normal" textLength="24.40" lengthAdjust="spacingAndGlyphs" >0.150</text>
<rect x="252.00" y="135.10" width="3" height="3" fill="#ff0000"/>
<text x="264.70" y="139.90" font-size="10.00" text-anchor="start" fill="#000" font-weight="normal" textLength="24.40" lengthAdjust="spacingAndGlyphs" >0.250</text>
<g clip-path="url(#clipb)">
<path d="M259.30,199.50 L259.63,199.91 L259.96,200.32 L260.28,200.72 L260.60,201.12 L260.93,201.53 L261.27,201.95 L261.63,202.37 L262.00,202.80 L262.48,203.33 L263.00,203.87 L263.55,204.42 L264.11,204.97 L264.66,205.54 L265.21,206.12 L265.72,206.70 L266.20,207.30 L266.64,207.89 L267.06,208.48 L267.46,209.08 L267.85,209.69 L268.22,210.31 L268.57,210.95 L268.89,211.61 L269.20,212.30 L269.50,213.09 L269.75,213.91 L269.97,214.76 L270.16,215.63 L270.35,216.52 L270.55,217.41 L270.76,218.31 L271.00,219.20 L271.30,220.15 L271.62,221.08 L271.95,222.00 L272.30,222.93 L272.64,223.90 L272.98,224.93 L273.30,226.02 L273.60,227.20 L274.01,229.21 L274.38,231.44 L274.72,233.84 L275.05,236.36 L275.35,238.94 L275.66,241.55 L275.97,244.12 L276.30,246.60" fill="none" stroke="#000000" stroke-width="2.4" stroke-linejoin="round" stroke-linecap="butt" />
<path d="M276.30,246.60 L276.39,245.93 L276.49,245.26 L276.58,244.59 L276.67,243.91 L276.76,243.24 L276.86,242.56 L276.95,241.88 L277.04,241.21 L277.14,240.53 L277.23,239.86 L277.32,239.20 L277.42,238.54 L277.51,237.90 L277.61,237.25 L277.70,236.63 L277.80,236.00 L277.88,235.47 L277.97,234.94 L278.05,234.43 L278.13,233.92 L278.21,233.42 L278.30,232.91 L278.38,232.42 L278.46,231.93 L278.55,231.44 L278.64,230.95 L278.72,230.46 L278.81,229.97 L278.91,229.48 L279.00,228.99 L279.10,228.49 L279.20,228.00 L279.31,227.50 L279.41,227.00 L279.52,226.50 L279.63,226.00 L279.75,225.50 L279.86,224.99 L279.98,224.49 L280.10,223.99 L280.22,223.49 L280.34,223.00 L280.47,222.50 L280.59,222.00 L280.72,221.50 L280.85,221.00 L280.97,220.50 L281.10,220.00 L281.23,219.50 L281.35,218.99 L281.48,218.48 L281.60,217.97 L281.72,217.46 L281.85,216.95 L281.98,216.44 L282.10,215.93 L282.24,215.42 L282.37,214.92 L282.51,214.42 L282.65,213.92 L282.81,213.44 L282.96,212.95 L283.13,212.47 L283.30,212.00 L283.47,211.57 L283.64,211.14 L283.83,210.71 L284.01,210.29 L284.20,209.87 L284.39,209.46 L284.60,209.05 L284.80,208.64 L285.00,208.23 L285.21,207.83 L285.42,207.44 L285.64,207.04 L285.85,206.65 L286.07,206.26 L286.28,205.88 L286.50,205.50 L286.71,205.15 L286.91,204.80 L287.12,204.46 L287.33,204.12 L287.54,203.78 L287.75,203.45 L287.97,203.12 L288.18,202.79 L288.40,202.46 L288.62,202.14 L288.85,201.81 L289.07,201.49 L289.30,201.17 L289.53,200.85 L289.77,200.52 L290.00,200.20 L290.25,199.87 L290.50,199.55 L290.76,199.23 L291.02,198.91 L291.28,198.59 L291.55,198.28 L291.82,197.97 L292.09,197.65 L292.36,197.34 L292.63,197.02 L292.90,196.70 L293.17,196.37 L293.43,196.04 L293.69,195.70 L293.95,195.35 L294.20,195.00 L294.47,194.60 L294.74,194.19 L295.01,193.78 L295.28,193.36 L295.54,192.93 L295.80,192.50 L296.06,192.06 L296.32,191.62 L296.57,191.18 L296.83,190.73 L297.08,190.28 L297.33,189.83 L297.57,189.37 L297.82,188.92 L298.06,188.46 L298.30,188.00 L298.55,187.52 L298.80,187.04 L299.05,186.56 L299.30,186.08 L299.55,185.59 L299.79,185.11 L300.03,184.61 L300.28,184.12 L300.51,183.62 L300.74,183.12 L300.97,182.61 L301.19,182.10 L301.40,181.58 L301.61,181.06 L301.80,180.53 L302.00,180.00 L302.19,179.41 L302.38,178.82 L302.55,178.21 L302.73,177.60 L302.88,176.98 L303.04,176.36 L303.18,175.72 L303.33,175.09 L303.46,174.45 L303.60,173.82 L303.73,173.18 L303.87,172.54 L304.00,171.90 L304.13,171.26 L304.27,170.63 L304.40,170.00 L304.54,169.37 L304.67,168.74 L304.81,168.11" fill="none" stroke="#000000" stroke-width="2.4" stroke-linejoin="round" stroke-linecap="butt" />
<path d="M304.67,168.74 L304.81,168.11 L304.94,167.48 L305.08,166.84 L305.21,166.21 L305.34,165.57 L305.47,164.94 L305.59,164.30 L305.72,163.67 L305.84,163.05 L305.96,162.43 L306.07,161.81 L306.19,161.20 L306.29,160.60 L306.40,160.00 L306.49,159.48 L306.58,158.97 L306.67,158.46 L306.76,157.96 L306.84,157.47 L306.92,156.98 L307.00,156.49 L307.08,156.01 L307.15,155.52 L307.23,155.03 L307.29,154.54 L307.36,154.05 L307.43,153.54 L307.49,153.04 L307.54,152.52 L307.60,152.00 L307.65,151.40 L307.70,150.79 L307.74,150.17 L307.78,149.54 L307.81,148.90 L307.84,148.26 L307.87,147.61 L307.89,146.97 L307.91,146.32 L307.93,145.68 L307.96,145.04 L307.98,144.41 L308.01,143.79 L308.03,143.18 L308.07,142.59 L308.10,142.00 L308.13,141.54 L308.17,141.07 L308.20,140.64 L308.24,140.21 L308.28,139.79 L308.32,139.38 L308.36,138.97 L308.40,138.56 L308.44,138.14 L308.48,137.72 L308.51,137.29 L308.55,136.85 L308.59,136.39 L308.63,135.92 L308.66,135.41 L308.70,134.90 L308.73,134.33 L308.77,133.75 L308.80,133.18 L308.83,132.55 L308.86,131.92 L308.89,131.29 L308.92,130.62 L308.96,129.95 L308.99,129.28 L309.01,128.75 L309.03,128.22 L309.05,127.69 L309.07,127.17 L309.09,126.62 L309.11,126.08 L309.13,125.54 L309.16,125.00 L309.18,124.46 L309.20,123.92 L309.22,123.37 L309.24,122.83 L309.26,122.29 L309.28,121.75 L309.30,121.22 L309.32,120.68 L309.35,119.99 L309.37,119.29 L309.40,118.60 L309.43,117.92 L309.45,117.25 L309.48,116.57 L309.50,115.90 L309.53,115.22 L309.55,114.55 L309.58,113.87 L309.60,113.20 L309.63,112.52 L309.65,111.85 L309.68,111.17 L309.70,110.50 L309.72,109.82 L309.75,109.15 L309.77,108.47 L309.80,107.80 L309.82,107.12 L309.85,106.45 L309.87,105.77 L309.90,105.10 L309.92,104.42 L309.95,103.75 L309.97,103.07 L310.00,102.40 L310.03,101.72 L310.05,101.04 L310.08,100.36 L310.11,99.68 L310.14,99.00 L310.16,98.32 L310.19,97.63 L310.22,96.94 L310.25,96.26 L310.28,95.58 L310.30,94.89 L310.33,94.21 L310.36,93.53 L310.39,92.85 L310.42,92.17 L310.45,91.49 L310.48,90.82 L310.51,90.15 L310.54,89.48 L310.57,88.82 L310.60,88.15 L310.64,87.50 L310.67,86.85 L310.70,86.20 L310.73,85.62 L310.76,85.03 L310.79,84.45 L310.82,83.88 L310.85,83.30 L310.88,82.73 L310.91,82.16 L310.94,81.59 L310.97,81.03 L311.01,80.47 L311.04,79.91 L311.07,79.35 L311.10,78.79 L311.14,78.23 L311.17,77.68 L311.20,77.12 L311.24,76.57 L311.27,76.02 L311.31,75.46 L311.35,74.91 L311.38,74.36 L311.42,73.81 L311.46,73.25 L311.50,72.70 L311.54,72.18 L311.58,71.65 L311.62,71.13 L311.66,70.62 L311.70,70.12 L311.75,69.61 L311.79,69.12 L311.83,68.62 L311.88,68.13 L311.92,67.63 L311.97,67.13 L312.01,66.64 L312.06,66.13 L312.10,65.62 L312.15,65.11 L312.20,64.58 L312.25,64.05 L312.30,63.51 L312.35,62.95 L312.40,62.39 L312.45,61.82 L312.50,61.21 L312.55,60.61 L312.60,60.00 L312.65,59.40 L312.70,58.80 L312.75,58.20 L312.79,57.60 L312.84,57.00 L312.89,56.34 L312.94,55.68 L313.00,55.02 L313.05,54.36 L313.10,53.70 L313.14,53.12 L313.19,52.53 L313.23,51.94 L313.28,51.35 L313.32,50.77 L313.37,50.18 L313.42,49.57 L313.46,48.96 L313.51,48.34 L313.56,47.73 L313.60,47.12 L313.65,46.51 L313.70,45.89 L313.75,45.27 L313.79,44.64 L313.84,44.02 L313.89,43.40 L313.94,42.78 L313.98,42.16 L314.03,41.54 L314.08,40.92 L314.13,40.30 L314.18,39.68 L314.23,39.06 L314.27,38.46 L314.32,37.86 L314.37,37.25 L314.42,36.65 L314.47,36.05 L314.51,35.44 L314.57,34.75 L314.63,34.07 L314.69,33.38 L314.74,32.69 L314.80,32.00 L314.85,31.39 L314.90,30.77 L314.96,30.16 L315.01,29.55 L315.06,28.93 L315.11,28.31 L315.17,27.69 L315.22,27.06 L315.28,26.44 L315.33,25.81 L315.38,25.19 L315.44,24.56 L315.49,23.94 L315.55,23.31 L315.60,22.69 L315.66,22.07 L315.71,21.46 L315.77,20.84 L315.82,20.23 L315.88,19.61 L315.93,19.02 L315.98,18.43 L316.04,17.84 L316.09,17.25 L316.15,16.65 L316.20,16.10 L316.25,15.54 L316.30,14.98 L316.36,14.42 L316.41,13.86 L316.47,13.22 L316.54,12.58 L316.60,11.93 L316.66,11.29 L316.72,10.72 L316.78,10.15 L316.84,9.57 L316.90,9.00 L316.97,8.40 L317.03,7.80 L317.10,7.25 L317.16,6.71 L317.23,6.20 L317.29,5.70 L317.35,5.22 L317.41,4.74 L317.47,4.28 L317.53,3.82 L317.59,3.36 L317.65,2.90 L317.72,2.44 L317.78,1.97 L317.84,1.49 L317.90,1.00" fill="none" stroke="#000000" stroke-width="2.4" stroke-linejoin="round" stroke-linecap="butt" stroke-dasharray="2.6 2.1"/>
<path d="M259.30,201.20 L259.63,201.57 L259.96,201.94 L260.28,202.30 L260.61,202.66 L260.94,203.03 L261.28,203.41 L261.63,203.80 L262.00,204.20 L262.49,204.72 L263.01,205.25 L263.55,205.81 L264.11,206.37 L264.66,206.95 L265.20,207.53 L265.72,208.11 L266.20,208.70 L266.63,209.25 L267.05,209.80 L267.45,210.35 L267.84,210.90 L268.21,211.47 L268.56,212.06 L268.89,212.67 L269.20,213.30 L269.50,214.04 L269.75,214.81 L269.97,215.61 L270.17,216.43 L270.36,217.26 L270.55,218.11 L270.76,218.95 L271.00,219.80 L271.30,220.71 L271.62,221.60 L271.96,222.49 L272.30,223.39 L272.64,224.33 L272.98,225.31 L273.30,226.36 L273.60,227.50 L274.01,229.40 L274.38,231.51 L274.72,233.77 L275.04,236.15 L275.35,238.58 L275.66,241.04 L275.97,243.46 L276.30,245.80" fill="none" stroke="#0000ff" stroke-width="2.9" stroke-linejoin="round" stroke-linecap="butt" />
<path d="M276.30,245.80 L276.40,245.15 L276.50,244.50 L276.60,243.85 L276.70,243.19 L276.80,242.54 L276.90,241.88 L276.99,241.22 L277.09,240.57 L277.19,239.92 L277.29,239.27 L277.39,238.62 L277.49,237.98 L277.59,237.35 L277.70,236.72 L277.80,236.11 L277.90,235.50 L277.99,234.98 L278.08,234.45 L278.17,233.94 L278.26,233.43 L278.35,232.92 L278.44,232.42 L278.53,231.93 L278.62,231.43 L278.71,230.94 L278.81,230.45 L278.90,229.96 L279.00,229.47 L279.09,228.98 L279.19,228.49 L279.30,228.00 L279.40,227.50 L279.51,227.00 L279.62,226.50 L279.73,226.00 L279.84,225.50 L279.96,225.00 L280.07,224.50 L280.19,224.00 L280.31,223.50 L280.43,223.00 L280.55,222.50 L280.67,222.00 L280.80,221.50 L280.92,221.00 L281.05,220.50 L281.17,220.00 L281.30,219.50 L281.43,219.00 L281.55,218.49 L281.68,217.99 L281.80,217.48 L281.92,216.97 L282.05,216.46 L282.18,215.96 L282.30,215.45 L282.44,214.95 L282.57,214.44 L282.71,213.94 L282.86,213.45 L283.01,212.95 L283.16,212.46 L283.33,211.98 L283.50,211.50 L283.68,211.04 L283.85,210.58 L284.04,210.13 L284.23,209.67 L284.42,209.22 L284.62,208.77 L284.82,208.32 L285.03,207.88 L285.24,207.44 L285.45,207.00 L285.67,206.57 L285.89,206.15 L286.12,205.73 L286.34,205.31 L286.57,204.91 L286.80,204.50 L287.01,204.14 L287.23,203.78 L287.44,203.44 L287.66,203.09 L287.88,202.75 L288.11,202.42 L288.34,202.09 L288.56,201.76 L288.80,201.43 L289.03,201.11 L289.27,200.79 L289.51,200.47 L289.75,200.15 L290.00,199.83 L290.25,199.52 L290.50,199.20 L290.76,198.89 L291.03,198.57 L291.30,198.27 L291.58,197.97 L291.86,197.68 L292.15,197.38 L292.44,197.09 L292.73,196.80 L293.02,196.50 L293.31,196.20 L293.59,195.90 L293.88,195.60 L294.17,195.28 L294.45,194.97 L294.72,194.63 L295.00,194.30 L295.30,193.91 L295.60,193.51 L295.89,193.10 L296.19,192.69 L296.48,192.26 L296.77,191.84 L297.06,191.40 L297.35,190.97 L297.63,190.52 L297.92,190.08 L298.20,189.63 L298.48,189.19 L298.76,188.74 L299.04,188.29 L299.32,187.85 L299.60,187.40 L299.89,186.95 L300.17,186.50 L300.46,186.06 L300.74,185.61 L301.03,185.16 L301.31,184.72 L301.59,184.27 L301.88,183.82 L302.15,183.36 L302.43,182.90 L302.70,182.43 L302.97,181.96 L303.23,181.48 L303.50,181.00 L303.75,180.50 L304.00,180.00 L304.27,179.42 L304.53,178.84 L304.78,178.23 L305.03,177.63 L305.27,177.01 L305.51,176.39 L305.75,175.75 L305.98,175.12 L306.21,174.47 L306.43,173.83 L306.66,173.19 L306.88,172.54 L307.11,171.90 L307.34,171.26 L307.57,170.63 L307.80,170.00 L308.04,169.39 L308.27,168.78 L308.51,168.18 L308.74,167.59 L308.98,167.00 L309.22,166.42 L309.45,165.82 L309.69,165.23 L309.92,164.63 L310.16,164.02 L310.39,163.39 L310.62,162.76 L310.77,162.32 L310.92,161.87 L311.06,161.43 L311.21,160.95 L311.35,160.48 L311.50,160.00 L311.64,159.49 L311.78,158.98 L311.91,158.47 L312.05,157.96 L312.17,157.45 L312.30,156.94 L312.42,156.43 L312.54,155.92 L312.65,155.39 L312.77,154.86 L312.88,154.34 L312.99,153.81 L313.10,153.25 L313.22,152.68 L313.33,152.12 L313.44,151.56 L313.56,150.95 L313.67,150.34 L313.79,149.73 L313.90,149.12 L314.03,148.45 L314.16,147.77 L314.29,147.10 L314.42,146.42 L314.54,145.82 L314.65,145.21 L314.77,144.61 L314.89,144.01 L315.01,143.40 L315.15,142.72 L315.28,142.04 L315.42,141.36 L315.56,140.68 L315.70,140.00 L315.84,139.34 L315.97,138.68 L316.11,138.02 L316.25,137.36 L316.38,136.71 L316.52,136.05 L316.66,135.39 L316.79,134.73 L316.93,134.07 L317.07,133.41 L317.21,132.75 L317.34,132.09 L317.48,131.44 L317.62,130.78 L317.75,130.12 L317.89,129.46 L318.03,128.80 L318.17,128.12 L318.31,127.44 L318.45,126.76 L318.59,126.08 L318.73,125.40 L318.87,124.72 L319.01,124.04 L319.15,123.36 L319.29,122.68 L319.43,122.00 L319.57,121.32 L319.72,120.64 L319.86,119.96 L320.00,119.28 L320.14,118.60 L320.28,117.92 L320.42,117.24 L320.56,116.56 L320.70,115.88 L320.84,115.20 L320.98,114.52 L321.12,113.86 L321.26,113.19 L321.39,112.53 L321.53,111.86 L321.67,111.19 L321.81,110.53 L321.94,109.86 L322.08,109.20 L322.22,108.53 L322.36,107.87 L322.50,107.20 L322.63,106.53 L322.77,105.87 L322.91,105.20 L323.05,104.54 L323.18,103.87 L323.32,103.21 L323.46,102.54 L323.60,101.87 L323.73,101.21 L323.87,100.54 L324.01,99.88 L324.15,99.21 L324.28,98.54 L324.42,97.88 L324.56,97.20 L324.70,96.52 L324.84,95.85 L324.98,95.17 L325.12,94.49 L325.26,93.81 L325.40,93.13 L325.54,92.46 L325.68,91.78 L325.82,91.10 L325.96,90.42 L326.10,89.74 L326.24,89.07 L326.38,88.39 L326.52,87.71 L326.66,87.03 L326.80,86.36 L326.94,85.68 L327.08,85.00 L327.22,84.32 L327.36,83.64 L327.50,82.97 L327.64,82.29 L327.78,81.61 L327.92,80.93 L328.06,80.25 L328.20,79.58 L328.34,78.91 L328.47,78.25 L328.61,77.59 L328.75,76.92 L328.89,76.26 L329.02,75.59 L329.16,74.93 L329.30,74.27 L329.43,73.60 L329.57,72.94 L329.71,72.28 L329.84,71.61 L329.98,70.95 L330.12,70.28 L330.26,69.62 L330.39,68.96 L330.53,68.29 L330.67,67.63 L330.80,66.96 L330.94,66.30 L331.08,65.64 L331.21,64.97 L331.35,64.31 L331.49,63.65 L331.63,62.98 L331.76,62.32" fill="none" stroke="#0000ff" stroke-width="2.9" stroke-linejoin="round" stroke-linecap="butt" />
<path d="M331.76,62.32 L331.90,61.65 L332.04,60.99 L332.17,60.33 L332.31,59.66 L332.45,58.98 L332.59,58.31 L332.73,57.64 L332.87,56.97 L333.00,56.30 L333.14,55.62 L333.28,54.95 L333.42,54.28 L333.56,53.61 L333.70,52.94 L333.84,52.26 L333.98,51.59 L334.11,50.92 L334.25,50.25 L334.39,49.58 L334.53,48.90 L334.67,48.23 L334.81,47.56 L334.95,46.89 L335.08,46.22 L335.22,45.54 L335.36,44.87 L335.50,44.20 L335.64,43.53 L335.78,42.86 L335.92,42.19 L336.06,41.51 L336.19,40.84 L336.33,40.16 L336.47,39.48 L336.61,38.80 L336.75,38.13 L336.89,37.45 L337.03,36.77 L337.17,36.09 L337.32,35.41 L337.46,34.73 L337.60,34.05 L337.74,33.37 L337.88,32.69 L338.02,32.01 L338.16,31.33 L338.30,30.66 L338.44,29.98 L338.58,29.30 L338.72,28.62 L338.86,27.94 L339.00,27.26 L339.14,26.58 L339.28,25.90 L339.42,25.22 L339.56,24.54 L339.70,23.87 L339.84,23.19 L339.98,22.51 L340.12,21.83 L340.25,21.17 L340.39,20.51 L340.53,19.85 L340.66,19.19 L340.80,18.53 L340.94,17.87 L341.07,17.21 L341.21,16.55 L341.35,15.89 L341.48,15.23 L341.62,14.57 L341.75,13.90 L341.89,13.24 L342.03,12.58 L342.16,11.92 L342.30,11.26 L342.44,10.60 L342.57,9.94 L342.71,9.28 L342.85,8.62 L342.98,7.96 L343.12,7.30 L343.25,6.64 L343.39,5.98 L343.53,5.32 L343.66,4.66 L343.80,4.00" fill="none" stroke="#0000ff" stroke-width="2.9" stroke-linejoin="round" stroke-linecap="butt" stroke-dasharray="5.5 1.0"/>
<path d="M259.30,202.70 L259.63,203.05 L259.96,203.39 L260.29,203.72 L260.61,204.06 L260.94,204.41 L261.28,204.76 L261.63,205.12 L262.00,205.50 L262.49,205.99 L263.01,206.50 L263.55,207.03 L264.11,207.57 L264.66,208.12 L265.20,208.68 L265.72,209.24 L266.20,209.80 L266.63,210.33 L267.05,210.85 L267.45,211.38 L267.84,211.91 L268.21,212.45 L268.56,213.01 L268.89,213.59 L269.20,214.20 L269.50,214.89 L269.75,215.62 L269.97,216.36 L270.17,217.13 L270.36,217.91 L270.55,218.70 L270.76,219.50 L271.00,220.30 L271.30,221.18 L271.62,222.05 L271.96,222.91 L272.30,223.79 L272.64,224.71 L272.98,225.67 L273.30,226.70 L273.60,227.80 L274.00,229.62 L274.37,231.63 L274.72,233.78 L275.04,236.03 L275.35,238.35 L275.66,240.68 L275.97,242.97 L276.30,245.20" fill="none" stroke="#00ff00" stroke-width="3.3" stroke-linejoin="round" stroke-linecap="butt" />
<path d="M276.30,245.20 L276.51,243.92 L276.72,242.62 L276.93,241.32 L277.14,240.02 L277.35,238.73 L277.57,237.46 L277.78,236.21 L278.00,235.00 L278.19,233.95 L278.38,232.93 L278.58,231.93 L278.77,230.94 L278.97,229.95 L279.17,228.97 L279.38,227.99 L279.60,227.00 L279.83,226.00 L280.07,225.00 L280.31,224.00 L280.56,223.00 L280.82,222.00 L281.08,221.00 L281.34,220.00 L281.60,219.00 L281.86,217.99 L282.11,216.98 L282.35,215.96 L282.60,214.95 L282.87,213.94 L283.15,212.94 L283.46,211.96 L283.80,211.00 L284.16,210.08 L284.54,209.17 L284.95,208.26 L285.37,207.37 L285.81,206.49 L286.26,205.64 L286.73,204.81 L287.20,204.00 L287.64,203.30 L288.08,202.62 L288.54,201.96 L289.01,201.32 L289.49,200.68 L289.98,200.06 L290.48,199.43 L291.00,198.80 L291.56,198.14 L292.14,197.50 L292.74,196.87 L293.35,196.24 L293.97,195.60 L294.58,194.95 L295.20,194.29 L295.80,193.60 L296.45,192.82 L297.10,192.02 L297.75,191.21 L298.40,190.37 L299.05,189.53 L299.70,188.69 L300.35,187.84 L301.00,187.00 L301.68,186.15 L302.38,185.31 L303.08,184.48 L303.78,183.63 L304.47,182.77 L305.14,181.89 L305.79,180.97 L306.40,180.00 L307.03,178.86 L307.61,177.66 L308.17,176.42 L308.69,175.14 L309.21,173.85 L309.73,172.55 L310.25,171.26 L310.80,170.00 L311.37,168.77 L311.94,167.59 L312.52,166.41 L313.10,165.24 L313.68,164.03 L314.26,162.77 L314.83,161.43 L315.40,160.00 L316.13,157.92 L316.81,155.78 L317.46,153.54 L318.11,151.17 L318.80,148.66 L319.55,145.98 L320.41,143.10 L321.40,140.00 L323.63,133.43 L326.30,125.85 L329.31,117.50 L332.56,108.59 L335.95,99.36 L339.38,90.04 L342.77,80.84 L346.00,72.00 L349.21,63.20 L352.44,54.35 L355.69,45.48 L358.95,36.59 L362.21,27.69 L365.48,18.78 L368.74,9.89 L372.00,1.00" fill="none" stroke="#00ff00" stroke-width="3.3" stroke-linejoin="round" stroke-linecap="butt" />
<path d="M259.30,204.20 L259.63,204.52 L259.96,204.84 L260.29,205.15 L260.61,205.47 L260.94,205.78 L261.28,206.11 L261.63,206.45 L262.00,206.80 L262.49,207.26 L263.01,207.73 L263.55,208.22 L264.11,208.72 L264.66,209.23 L265.20,209.75 L265.72,210.27 L266.20,210.80 L266.63,211.30 L267.05,211.80 L267.45,212.30 L267.84,212.81 L268.21,213.33 L268.56,213.86 L268.89,214.42 L269.20,215.00 L269.49,215.66 L269.75,216.35 L269.96,217.05 L270.16,217.78 L270.36,218.53 L270.55,219.28 L270.76,220.04 L271.00,220.80 L271.30,221.64 L271.62,222.47 L271.96,223.31 L272.30,224.15 L272.64,225.03 L272.98,225.96 L273.30,226.94 L273.60,228.00 L274.00,229.73 L274.37,231.63 L274.71,233.68 L275.04,235.81 L275.35,238.01 L275.66,240.21 L275.97,242.39 L276.30,244.50" fill="none" stroke="#007000" stroke-width="3.4" stroke-linejoin="round" stroke-linecap="butt" />
<path d="M276.30,244.50 L276.52,243.18 L276.75,241.84 L276.97,240.50 L277.19,239.16 L277.41,237.83 L277.64,236.52 L277.87,235.24 L278.10,234.00 L278.30,232.94 L278.51,231.92 L278.71,230.91 L278.92,229.92 L279.13,228.94 L279.34,227.96 L279.57,226.98 L279.80,226.00 L280.04,225.03 L280.29,224.06 L280.55,223.10 L280.81,222.14 L281.08,221.18 L281.35,220.22 L281.63,219.26 L281.90,218.30 L282.17,217.32 L282.43,216.33 L282.69,215.34 L282.95,214.35 L283.23,213.37 L283.52,212.40 L283.84,211.44 L284.20,210.50 L284.58,209.59 L284.98,208.69 L285.41,207.80 L285.86,206.93 L286.32,206.06 L286.80,205.22 L287.30,204.40 L287.80,203.60 L288.28,202.88 L288.78,202.19 L289.29,201.52 L289.82,200.86 L290.35,200.22 L290.89,199.58 L291.44,198.94 L292.00,198.30 L292.57,197.65 L293.15,197.02 L293.75,196.39 L294.35,195.77 L294.95,195.15 L295.56,194.51 L296.18,193.87 L296.80,193.20 L297.49,192.44 L298.19,191.66 L298.89,190.86 L299.60,190.06 L300.32,189.24 L301.04,188.43 L301.77,187.61 L302.50,186.80 L303.28,185.97 L304.09,185.16 L304.90,184.36 L305.73,183.55 L306.54,182.72 L307.33,181.86 L308.09,180.96 L308.80,180.00 L309.53,178.88 L310.20,177.68 L310.83,176.44 L311.44,175.16 L312.03,173.86 L312.63,172.55 L313.25,171.26 L313.90,170.00 L314.58,168.77 L315.28,167.58 L315.98,166.41 L316.69,165.23 L317.41,164.03 L318.14,162.77 L318.87,161.43 L319.60,160.00 L320.64,157.80 L321.71,155.35 L322.81,152.73 L323.92,150.02 L325.01,147.31 L326.07,144.68 L327.07,142.22 L328.00,140.00 L328.60,138.60 L329.16,137.32 L329.68,136.12 L330.19,134.96 L330.70,133.80 L331.23,132.62 L331.79,131.36 L332.40,130.00 L333.29,128.00 L334.23,125.86 L335.22,123.61 L336.25,121.30 L337.31,118.96 L338.37,116.64 L339.44,114.37 L340.50,112.20 L341.48,110.25 L342.47,108.32 L343.47,106.41 L344.47,104.53 L345.49,102.68 L346.51,100.86 L347.55,99.06 L348.60,97.30 L349.59,95.68 L350.59,94.09 L351.60,92.52 L352.62,90.97 L353.65,89.45 L354.69,87.97 L355.74,86.52 L356.80,85.10 L357.81,83.82 L358.86,82.56 L359.93,81.33 L361.00,80.12 L362.06,78.95 L363.07,77.82 L364.03,76.73 L364.90,75.70 L365.47,74.98 L366.00,74.29 L366.49,73.61 L366.96,72.96 L367.42,72.33 L367.89,71.73 L368.38,71.15 L368.90,70.60 L369.39,70.15 L369.90,69.74 L370.41,69.36 L370.93,69.00 L371.46,68.64 L371.98,68.26 L372.49,67.86 L373.00,67.40 L373.58,66.81 L374.15,66.18 L374.71,65.51 L375.27,64.81 L375.83,64.10 L376.38,63.39 L376.94,62.69 L377.50,62.00" fill="none" stroke="#007000" stroke-width="3.4" stroke-linejoin="round" stroke-linecap="butt" />
<path d="M259.30,206.00 L259.63,206.28 L259.96,206.56 L260.29,206.84 L260.61,207.11 L260.95,207.40 L261.28,207.68 L261.64,207.99 L262.00,208.30 L262.49,208.72 L263.01,209.15 L263.56,209.60 L264.11,210.06 L264.66,210.53 L265.20,211.02 L265.72,211.51 L266.20,212.00 L266.63,212.47 L267.05,212.94 L267.45,213.42 L267.84,213.90 L268.21,214.40 L268.56,214.91 L268.89,215.45 L269.20,216.00 L269.49,216.62 L269.74,217.27 L269.96,217.94 L270.16,218.63 L270.36,219.34 L270.55,220.05 L270.76,220.77 L271.00,221.50 L271.30,222.32 L271.62,223.13 L271.96,223.94 L272.30,224.77 L272.64,225.63 L272.98,226.53 L273.30,227.48 L273.60,228.50 L273.99,230.09 L274.36,231.84 L274.70,233.69 L275.02,235.63 L275.34,237.62 L275.65,239.61 L275.97,241.58 L276.30,243.50" fill="none" stroke="#ffff00" stroke-width="3.4" stroke-linejoin="round" stroke-linecap="butt" />
<path d="M276.30,243.50 L276.54,242.18 L276.77,240.84 L277.00,239.50 L277.23,238.16 L277.47,236.83 L277.71,235.52 L277.95,234.24 L278.20,233.00 L278.43,231.94 L278.65,230.90 L278.89,229.89 L279.12,228.89 L279.36,227.90 L279.60,226.92 L279.85,225.96 L280.10,225.00 L280.34,224.12 L280.58,223.25 L280.83,222.39 L281.09,221.54 L281.34,220.70 L281.60,219.86 L281.85,219.03 L282.10,218.20 L282.33,217.41 L282.54,216.63 L282.75,215.86 L282.97,215.08 L283.19,214.31 L283.43,213.55 L283.70,212.77 L284.00,212.00 L284.36,211.15 L284.75,210.29 L285.16,209.43 L285.60,208.57 L286.06,207.72 L286.55,206.87 L287.06,206.03 L287.60,205.20 L288.21,204.32 L288.86,203.44 L289.55,202.57 L290.26,201.71 L290.99,200.86 L291.75,200.03 L292.52,199.21 L293.30,198.40 L294.13,197.60 L295.00,196.82 L295.89,196.05 L296.80,195.31 L297.72,194.56 L298.63,193.82 L299.53,193.06 L300.40,192.30 L301.22,191.55 L302.03,190.79 L302.83,190.02 L303.62,189.26 L304.41,188.50 L305.20,187.73 L305.99,186.96 L306.80,186.20 L307.62,185.44 L308.44,184.69 L309.26,183.95 L310.08,183.21 L310.91,182.45 L311.76,181.67 L312.62,180.86 L313.50,180.00 L314.62,178.88 L315.78,177.69 L316.96,176.44 L318.17,175.17 L319.38,173.87 L320.60,172.56 L321.81,171.27 L323.00,170.00 L324.18,168.74 L325.38,167.47 L326.57,166.19 L327.76,164.92 L328.95,163.65 L330.12,162.41 L331.27,161.19 L332.40,160.00 L333.37,158.98 L334.32,158.00 L335.24,157.04 L336.15,156.10 L337.07,155.16 L338.01,154.20 L338.98,153.22 L340.00,152.20 L341.28,150.94 L342.63,149.62 L344.03,148.27 L345.46,146.91 L346.89,145.54 L348.31,144.19 L349.68,142.87 L351.00,141.60 L352.10,140.51 L353.17,139.44 L354.21,138.38 L355.24,137.33 L356.26,136.31 L357.29,135.31 L358.33,134.34 L359.40,133.40 L360.42,132.54 L361.44,131.69 L362.46,130.86 L363.49,130.06 L364.53,129.28 L365.60,128.55 L366.68,127.85 L367.80,127.20 L368.95,126.61 L370.13,126.08 L371.34,125.60 L372.57,125.15 L373.81,124.72 L375.04,124.29 L376.28,123.86 L377.50,123.40" fill="none" stroke="#ffff00" stroke-width="3.4" stroke-linejoin="round" stroke-linecap="butt" />
<path d="M259.30,209.00 L259.63,209.25 L259.96,209.48 L260.29,209.72 L260.62,209.96 L260.95,210.20 L261.29,210.45 L261.64,210.72 L262.00,211.00 L262.49,211.38 L263.01,211.79 L263.56,212.22 L264.11,212.66 L264.66,213.12 L265.20,213.58 L265.72,214.04 L266.20,214.50 L266.62,214.92 L267.04,215.33 L267.44,215.74 L267.83,216.16 L268.20,216.59 L268.56,217.04 L268.89,217.51 L269.20,218.00 L269.49,218.56 L269.74,219.15 L269.96,219.76 L270.16,220.40 L270.35,221.04 L270.55,221.69 L270.76,222.35 L271.00,223.00 L271.30,223.71 L271.62,224.41 L271.95,225.11 L272.30,225.82 L272.64,226.55 L272.97,227.32 L273.30,228.13 L273.60,229.00 L273.99,230.33 L274.35,231.79 L274.69,233.34 L275.02,234.95 L275.34,236.60 L275.65,238.26 L275.97,239.90 L276.30,241.50" fill="none" stroke="#ff8000" stroke-width="3.6" stroke-linejoin="round" stroke-linecap="butt" />
<path d="M276.30,241.50 L276.63,239.85 L276.97,238.16 L277.29,236.45 L277.62,234.75 L277.96,233.08 L278.30,231.47 L278.64,229.93 L279.00,228.50 L279.28,227.50 L279.56,226.54 L279.85,225.62 L280.14,224.73 L280.43,223.87 L280.73,223.04 L281.01,222.21 L281.30,221.40 L281.53,220.72 L281.75,220.07 L281.95,219.43 L282.16,218.80 L282.38,218.18 L282.63,217.57 L282.89,216.94 L283.20,216.30 L283.60,215.55 L284.04,214.78 L284.52,214.01 L285.02,213.24 L285.55,212.47 L286.09,211.71 L286.64,210.95 L287.20,210.20 L287.79,209.43 L288.39,208.67 L289.01,207.92 L289.65,207.17 L290.29,206.42 L290.95,205.68 L291.62,204.94 L292.30,204.20 L293.02,203.42 L293.75,202.64 L294.49,201.85 L295.24,201.07 L296.01,200.30 L296.79,199.55 L297.59,198.81 L298.40,198.10 L299.24,197.42 L300.10,196.77 L300.98,196.14 L301.87,195.52 L302.77,194.91 L303.68,194.30 L304.59,193.66 L305.50,193.00 L306.48,192.26 L307.46,191.51 L308.46,190.74 L309.45,189.96 L310.46,189.18 L311.46,188.39 L312.48,187.59 L313.50,186.80 L314.58,185.95 L315.67,185.09 L316.76,184.21 L317.86,183.32 L318.97,182.45 L320.08,181.60 L321.19,180.78 L322.30,180.00 L323.34,179.31 L324.38,178.65 L325.42,178.02 L326.46,177.40 L327.51,176.80 L328.56,176.20 L329.63,175.60 L330.70,175.00 L331.83,174.37 L332.98,173.73 L334.14,173.10 L335.31,172.47 L336.48,171.86 L337.64,171.25 L338.78,170.66 L339.90,170.10 L340.89,169.61 L341.86,169.15 L342.81,168.70 L343.76,168.26 L344.71,167.83 L345.66,167.39 L346.63,166.95 L347.60,166.50 L348.63,166.02 L349.67,165.52 L350.72,165.03 L351.77,164.53 L352.82,164.03 L353.88,163.54 L354.94,163.07 L356.00,162.60 L357.04,162.16 L358.07,161.73 L359.10,161.32 L360.13,160.92 L361.17,160.51 L362.25,160.09 L363.35,159.66 L364.50,159.20 L365.99,158.60 L367.56,157.98 L369.17,157.33 L370.83,156.67 L372.50,156.00 L374.19,155.33 L375.86,154.66 L377.50,154.00" fill="none" stroke="#ff8000" stroke-width="3.6" stroke-linejoin="round" stroke-linecap="butt" />
<path d="M259.30,214.00 L259.63,214.18 L259.96,214.36 L260.29,214.54 L260.61,214.72 L260.95,214.91 L261.29,215.09 L261.64,215.29 L262.00,215.50 L262.49,215.77 L263.01,216.06 L263.55,216.35 L264.11,216.66 L264.66,216.98 L265.20,217.31 L265.72,217.65 L266.20,218.00 L266.63,218.34 L267.04,218.68 L267.45,219.03 L267.83,219.39 L268.21,219.76 L268.56,220.15 L268.89,220.56 L269.20,221.00 L269.49,221.50 L269.73,222.04 L269.95,222.61 L270.14,223.20 L270.33,223.79 L270.53,224.38 L270.75,224.95 L271.00,225.50 L271.28,226.02 L271.59,226.54 L271.91,227.05 L272.24,227.55 L272.57,228.05 L272.92,228.54 L273.26,229.02 L273.60,229.50 L273.93,229.95 L274.26,230.40 L274.60,230.84 L274.94,231.27 L275.28,231.70 L275.62,232.13 L275.96,232.56 L276.30,233.00" fill="none" stroke="#ff0000" stroke-width="3.8" stroke-linejoin="round" stroke-linecap="butt" />
<path d="M276.30,233.00 L276.74,232.25 L277.18,231.50 L277.62,230.74 L278.07,229.99 L278.51,229.24 L278.94,228.49 L279.38,227.74 L279.80,227.00 L280.20,226.29 L280.58,225.57 L280.96,224.86 L281.34,224.14 L281.72,223.44 L282.10,222.74 L282.49,222.06 L282.90,221.40 L283.28,220.79 L283.66,220.19 L284.03,219.60 L284.41,219.02 L284.81,218.45 L285.24,217.89 L285.70,217.34 L286.20,216.80 L286.84,216.20 L287.53,215.61 L288.26,215.05 L289.03,214.50 L289.83,213.95 L290.64,213.41 L291.47,212.86 L292.30,212.30 L293.24,211.66 L294.21,211.03 L295.20,210.39 L296.20,209.75 L297.23,209.11 L298.27,208.48 L299.33,207.84 L300.40,207.20 L301.60,206.49 L302.83,205.78 L304.08,205.05 L305.35,204.34 L306.64,203.62 L307.93,202.93 L309.22,202.25 L310.50,201.60 L311.76,200.98 L313.04,200.36 L314.32,199.76 L315.60,199.18 L316.89,198.62 L318.17,198.08 L319.44,197.57 L320.70,197.10 L321.83,196.71 L322.92,196.36 L324.00,196.03 L325.07,195.73 L326.17,195.44 L327.31,195.14 L328.52,194.83 L329.80,194.50 L331.74,194.00 L333.84,193.47 L336.05,192.92 L338.35,192.36 L340.69,191.80 L343.04,191.25 L345.35,190.71 L347.60,190.20 L349.75,189.71 L351.90,189.23 L354.06,188.76 L356.21,188.29 L358.34,187.84 L360.44,187.41 L362.49,186.99 L364.50,186.60 L366.20,186.28 L367.87,185.99 L369.50,185.71 L371.10,185.44 L372.70,185.19 L374.29,184.93 L375.89,184.67 L377.50,184.40" fill="none" stroke="#ff0000" stroke-width="3.8" stroke-linejoin="round" stroke-linecap="butt" />
</g>
<line x1="302.60" y1="236.70" x2="288.50" y2="229.60" stroke="#000" stroke-width="1.4" />
<path d="M283.6,227.3 L292.3,227.9 L288.7,233.8 Z" fill="#000"/>
<text x="291.30" y="249.70" font-size="10.75" text-anchor="start" fill="#000" font-weight="normal" textLength="66.30" lengthAdjust="spacingAndGlyphs" >crossing point</text>
<line x1="465.00" y1="259.50" x2="470.00" y2="259.50" stroke="#111" stroke-width="1.0" />
<line x1="467.00" y1="239.50" x2="470.00" y2="239.50" stroke="#111" stroke-width="1.0" />
<line x1="465.00" y1="219.50" x2="470.00" y2="219.50" stroke="#111" stroke-width="1.0" />
<line x1="467.00" y1="199.50" x2="470.00" y2="199.50" stroke="#111" stroke-width="1.0" />
<line x1="465.00" y1="179.50" x2="470.00" y2="179.50" stroke="#111" stroke-width="1.0" />
<line x1="467.00" y1="159.50" x2="470.00" y2="159.50" stroke="#111" stroke-width="1.0" />
<line x1="465.00" y1="140.50" x2="470.00" y2="140.50" stroke="#111" stroke-width="1.0" />
<line x1="467.00" y1="120.50" x2="470.00" y2="120.50" stroke="#111" stroke-width="1.0" />
<line x1="465.00" y1="100.50" x2="470.00" y2="100.50" stroke="#111" stroke-width="1.0" />
<line x1="467.00" y1="80.50" x2="470.00" y2="80.50" stroke="#111" stroke-width="1.0" />
<line x1="465.00" y1="60.50" x2="470.00" y2="60.50" stroke="#111" stroke-width="1.0" />
<line x1="467.00" y1="41.50" x2="470.00" y2="41.50" stroke="#111" stroke-width="1.0" />
<line x1="465.00" y1="21.50" x2="470.00" y2="21.50" stroke="#111" stroke-width="1.0" />
<line x1="467.00" y1="1.50" x2="470.00" y2="1.50" stroke="#111" stroke-width="1.0" />
<text x="462.50" y="262.60" font-size="10.00" text-anchor="end" fill="#000" font-weight="normal" >0.0</text>
<text x="427.10" y="222.98" font-size="10.00" text-anchor="start" fill="#000" font-weight="normal" >2.0x10<tspan font-size="6.8" dy="-5.9">8</tspan></text>
<text x="427.10" y="183.36" font-size="10.00" text-anchor="start" fill="#000" font-weight="normal" >4.0x10<tspan font-size="6.8" dy="-5.9">8</tspan></text>
<text x="427.10" y="143.74" font-size="10.00" text-anchor="start" fill="#000" font-weight="normal" >6.0x10<tspan font-size="6.8" dy="-5.9">8</tspan></text>
<text x="427.10" y="104.12" font-size="10.00" text-anchor="start" fill="#000" font-weight="normal" >8.0x10<tspan font-size="6.8" dy="-5.9">8</tspan></text>
<text x="427.10" y="64.50" font-size="10.00" text-anchor="start" fill="#000" font-weight="normal" >1.0x10<tspan font-size="6.8" dy="-5.9">9</tspan></text>
<text x="427.10" y="24.88" font-size="10.00" text-anchor="start" fill="#000" font-weight="normal" >1.2x10<tspan font-size="6.8" dy="-5.9">9</tspan></text>
<line x1="727.50" y1="259.50" x2="732.50" y2="259.50" stroke="#111" stroke-width="1.0" />
<text x="736.00" y="262.60" font-size="10.00" text-anchor="start" fill="#000" font-weight="normal" >0</text>
<line x1="727.50" y1="229.50" x2="730.50" y2="229.50" stroke="#111" stroke-width="1.0" />
<line x1="727.50" y1="199.50" x2="732.50" y2="199.50" stroke="#111" stroke-width="1.0" />
<text x="736.00" y="203.18" font-size="10.00" text-anchor="start" fill="#000" font-weight="normal" >1000</text>
<line x1="727.50" y1="169.50" x2="730.50" y2="169.50" stroke="#111" stroke-width="1.0" />
<line x1="727.50" y1="140.50" x2="732.50" y2="140.50" stroke="#111" stroke-width="1.0" />
<text x="736.00" y="143.76" font-size="10.00" text-anchor="start" fill="#000" font-weight="normal" >2000</text>
<line x1="727.50" y1="110.50" x2="730.50" y2="110.50" stroke="#111" stroke-width="1.0" />
<line x1="727.50" y1="80.50" x2="732.50" y2="80.50" stroke="#111" stroke-width="1.0" />
<text x="736.00" y="84.34" font-size="10.00" text-anchor="start" fill="#000" font-weight="normal" >3000</text>
<line x1="727.50" y1="51.50" x2="730.50" y2="51.50" stroke="#111" stroke-width="1.0" />
<line x1="727.50" y1="21.50" x2="732.50" y2="21.50" stroke="#111" stroke-width="1.0" />
<text x="736.00" y="24.92" font-size="10.00" text-anchor="start" fill="#000" font-weight="normal" >4000</text>
<line x1="469.50" y1="258.80" x2="469.50" y2="263.80" stroke="#111" stroke-width="1.0" />
<line x1="469.50" y1="1.50" x2="469.50" y2="7.00" stroke="#111" stroke-width="1.0" />
<line x1="489.50" y1="258.80" x2="489.50" y2="261.80" stroke="#111" stroke-width="1.0" />
<line x1="489.50" y1="1.50" x2="489.50" y2="5.00" stroke="#111" stroke-width="1.0" />
<line x1="509.50" y1="258.80" x2="509.50" y2="263.80" stroke="#111" stroke-width="1.0" />
<line x1="509.50" y1="1.50" x2="509.50" y2="7.00" stroke="#111" stroke-width="1.0" />
<line x1="529.50" y1="258.80" x2="529.50" y2="261.80" stroke="#111" stroke-width="1.0" />
<line x1="529.50" y1="1.50" x2="529.50" y2="5.00" stroke="#111" stroke-width="1.0" />
<line x1="548.50" y1="258.80" x2="548.50" y2="263.80" stroke="#111" stroke-width="1.0" />
<line x1="548.50" y1="1.50" x2="548.50" y2="7.00" stroke="#111" stroke-width="1.0" />
<line x1="568.50" y1="258.80" x2="568.50" y2="261.80" stroke="#111" stroke-width="1.0" />
<line x1="568.50" y1="1.50" x2="568.50" y2="5.00" stroke="#111" stroke-width="1.0" />
<line x1="588.50" y1="258.80" x2="588.50" y2="263.80" stroke="#111" stroke-width="1.0" />
<line x1="588.50" y1="1.50" x2="588.50" y2="7.00" stroke="#111" stroke-width="1.0" />
<line x1="608.50" y1="258.80" x2="608.50" y2="261.80" stroke="#111" stroke-width="1.0" />
<line x1="608.50" y1="1.50" x2="608.50" y2="5.00" stroke="#111" stroke-width="1.0" />
<line x1="628.50" y1="258.80" x2="628.50" y2="263.80" stroke="#111" stroke-width="1.0" />
<line x1="628.50" y1="1.50" x2="628.50" y2="7.00" stroke="#111" stroke-width="1.0" />
<line x1="648.50" y1="258.80" x2="648.50" y2="261.80" stroke="#111" stroke-width="1.0" />
<line x1="648.50" y1="1.50" x2="648.50" y2="5.00" stroke="#111" stroke-width="1.0" />
<line x1="668.50" y1="258.80" x2="668.50" y2="263.80" stroke="#111" stroke-width="1.0" />
<line x1="668.50" y1="1.50" x2="668.50" y2="7.00" stroke="#111" stroke-width="1.0" />
<line x1="687.50" y1="258.80" x2="687.50" y2="261.80" stroke="#111" stroke-width="1.0" />
<line x1="687.50" y1="1.50" x2="687.50" y2="5.00" stroke="#111" stroke-width="1.0" />
<line x1="707.50" y1="258.80" x2="707.50" y2="263.80" stroke="#111" stroke-width="1.0" />
<line x1="707.50" y1="1.50" x2="707.50" y2="7.00" stroke="#111" stroke-width="1.0" />
<line x1="727.50" y1="258.80" x2="727.50" y2="261.80" stroke="#111" stroke-width="1.0" />
<line x1="727.50" y1="1.50" x2="727.50" y2="5.00" stroke="#111" stroke-width="1.0" />
<text x="469.50" y="275.40" font-size="10.00" text-anchor="middle" fill="#000" font-weight="normal" >0</text>
<text x="509.22" y="275.40" font-size="10.00" text-anchor="middle" fill="#000" font-weight="normal" >2</text>
<text x="548.94" y="275.40" font-size="10.00" text-anchor="middle" fill="#000" font-weight="normal" >4</text>
<text x="588.66" y="275.40" font-size="10.00" text-anchor="middle" fill="#000" font-weight="normal" >6</text>
<text x="628.38" y="275.40" font-size="10.00" text-anchor="middle" fill="#000" font-weight="normal" >8</text>
<text x="668.10" y="275.40" font-size="10.00" text-anchor="middle" fill="#000" font-weight="normal" >10</text>
<text x="707.82" y="275.40" font-size="10.00" text-anchor="middle" fill="#000" font-weight="normal" >12</text>
<rect x="470.00" y="1.50" width="257.50" height="257.30" fill="none" stroke="#000" stroke-width="1.4"/>
<text x="549.00" y="291.50" font-size="12.00" text-anchor="start" fill="#000" font-weight="normal" textLength="95.40" lengthAdjust="spacingAndGlyphs" >Magnetic field (T)</text>
<text transform="translate(408.0,156.8) rotate(-90)" font-size="12" textLength="79.5" lengthAdjust="spacingAndGlyphs">Resistance (&#937;)</text>
<text x="405.00" y="10.90" font-size="12.80" text-anchor="start" fill="#000" font-weight="normal" textLength="15.50" lengthAdjust="spacingAndGlyphs" >(c)</text>
<g clip-path="url(#clipc)">
<path d="M469.50,259.00 L469.83,259.00 L470.17,259.00 L470.50,259.00 L470.83,259.00 L471.17,259.00 L471.50,259.00 L471.83,259.00 L472.17,259.00 L472.50,259.00 L472.83,259.00 L473.17,259.00 L473.50,259.00 L473.83,259.00 L474.17,259.00 L474.50,259.00 L474.83,259.00 L475.17,259.00 L475.50,259.00 L475.83,259.00 L476.17,259.00 L476.50,259.00 L476.83,259.00 L477.17,259.00 L477.50,259.00 L477.83,259.00 L478.17,259.00 L478.50,259.00 L478.83,259.00 L479.17,259.00 L479.50,259.00 L479.83,259.00 L480.17,259.00 L480.50,259.00 L480.83,259.00 L481.17,259.00 L481.50,259.00 L481.83,259.00 L482.17,259.00 L482.50,259.00 L482.83,259.00 L483.17,258.99 L483.50,258.99 L483.83,258.99 L484.17,258.99 L484.50,258.99 L484.83,258.99 L485.17,258.99 L485.50,258.99 L485.83,258.98 L486.17,258.98 L486.50,258.98 L486.83,258.98 L487.17,258.98 L487.50,258.97 L487.83,258.97 L488.17,258.96 L488.50,258.96 L488.83,258.95 L489.17,258.95 L489.50,258.94 L489.83,258.94 L490.17,258.93 L490.50,258.92 L490.83,258.91 L491.17,258.90 L491.50,258.89 L491.83,258.88 L492.17,258.87 L492.50,258.85 L492.83,258.83 L493.17,258.82 L493.50,258.80 L493.83,258.78 L494.17,258.76 L494.50,258.73 L494.83,258.71 L495.17,258.68 L495.50,258.65 L495.83,258.61 L496.17,258.58 L496.50,258.54 L496.83,258.50 L497.17,258.45 L497.50,258.41 L497.83,258.36 L498.17,258.30 L498.50,258.24 L498.83,258.18 L499.17,258.12 L499.50,258.04 L499.83,257.97 L500.17,257.89 L500.50,257.81 L500.83,257.72 L501.17,257.62 L501.50,257.52 L501.83,257.42 L502.17,257.31 L502.50,257.19 L502.83,257.07 L503.17,256.94 L503.50,256.80 L503.83,256.66 L504.17,256.51 L504.50,256.36 L504.83,256.20 L505.17,256.03 L505.50,255.85 L505.83,255.67 L506.17,255.48 L506.50,255.28 L506.83,255.08 L507.17,254.86 L507.50,254.65 L507.83,254.42 L508.17,254.18 L508.50,253.94 L508.83,253.69 L509.17,253.44 L509.50,253.18 L509.83,252.91 L510.17,252.63 L510.50,252.35 L510.83,252.06 L511.17,251.76 L511.50,251.46 L511.83,251.15 L512.17,250.83 L512.50,250.51 L512.83,250.19 L513.17,249.86 L513.50,249.52 L513.83,249.18 L514.17,248.84 L514.50,248.49 L514.83,248.14 L515.17,247.78 L515.50,247.42 L515.83,247.06 L516.17,246.70 L516.50,246.34 L516.83,245.97 L517.17,245.60 L517.50,245.24 L517.83,244.87 L518.17,244.50 L518.50,244.14 L518.83,243.77 L519.17,243.41 L519.50,243.05 L519.83,242.69 L520.17,242.33 L520.50,241.98 L520.83,241.63 L521.17,241.28 L521.50,240.94 L521.83,240.60 L522.17,240.27 L522.50,239.94 L522.83,239.62 L523.17,239.31 L523.50,239.00 L523.83,238.69 L524.17,238.40 L524.50,238.11 L524.83,237.82 L525.17,237.55 L525.50,237.28 L525.83,237.02 L526.17,236.77 L526.50,236.53 L526.83,236.30 L527.17,236.07 L527.50,235.85 L527.83,235.65 L528.17,235.45 L528.50,235.26 L528.83,235.08 L529.17,234.90 L529.50,234.74 L529.83,234.59 L530.17,234.44 L530.50,234.31 L530.83,234.18 L531.17,234.06 L531.50,233.96 L531.83,233.86 L532.17,233.76 L532.50,233.68 L532.83,233.61 L533.17,233.54 L533.50,233.49 L533.83,233.44 L534.17,233.40 L534.50,233.36 L534.83,233.34 L535.17,233.32 L535.50,233.31 L535.83,233.31 L536.31,233.32 L536.79,233.35 L537.27,233.40 L537.76,233.47 L538.24,233.56 L538.72,233.66 L539.20,233.78 L539.68,233.93 L540.16,234.08 L540.64,234.25 L541.12,234.44 L541.60,234.64 L542.08,234.85 L542.56,235.08 L543.04,235.32 L543.53,235.57 L544.01,235.82 L544.49,236.09 L544.97,236.37 L545.45,236.66 L545.93,236.95 L546.41,237.26 L546.89,237.57 L547.37,237.88 L547.85,238.20 L548.33,238.53 L548.81,238.85 L549.30,239.19 L549.78,239.52 L550.26,239.86 L550.74,240.20 L551.22,240.55 L551.70,240.89 L552.18,241.23 L552.66,241.58 L553.14,241.92 L553.62,242.27 L554.10,242.61 L554.58,242.95 L555.07,243.29 L555.55,243.63 L556.03,243.97 L556.51,244.31 L556.99,244.64 L557.47,244.97 L557.95,245.29 L558.43,245.62 L558.91,245.93 L559.39,246.25 L559.87,246.56 L560.35,246.87 L560.84,247.17 L561.32,247.47 L561.80,247.77 L562.28,248.06 L562.76,248.34 L563.24,248.63 L563.72,248.90 L564.20,249.17 L564.68,249.44 L565.16,249.70 L565.64,249.96 L566.12,250.21 L566.60,250.46 L567.09,250.70 L567.57,250.94 L568.05,251.17 L568.53,251.40 L569.01,251.62 L569.49,251.84 L569.97,252.05 L570.45,252.26 L570.93,252.46 L571.41,252.66 L571.89,252.85 L572.37,253.04 L572.86,253.22 L573.34,253.40 L573.82,253.58 L574.30,253.75 L574.78,253.91 L575.26,254.07 L575.74,254.23 L576.22,254.38 L576.70,254.53 L577.18,254.68 L577.66,254.82 L578.14,254.96 L578.63,255.09 L579.11,255.22 L579.59,255.34 L580.07,255.47 L580.55,255.59 L581.03,255.70 L581.51,255.81 L581.99,255.92 L582.47,256.03 L582.95,256.13 L583.43,256.23 L583.91,256.32 L584.40,256.41 L584.88,256.50 L585.36,256.59 L585.84,256.68 L586.32,256.76 L586.80,256.84 L587.28,256.91 L587.76,256.99 L588.24,257.06 L588.72,257.13 L589.20,257.20 L589.68,257.26 L590.17,257.33 L590.65,257.39 L591.13,257.44 L591.61,257.50 L592.09,257.56 L592.57,257.61 L593.05,257.66 L593.53,257.71 L594.01,257.76 L594.49,257.80 L594.97,257.85 L595.45,257.89 L595.94,257.93 L596.42,257.97 L596.90,258.01 L597.38,258.05 L597.86,258.09 L598.34,258.12 L598.82,258.15 L599.30,258.19 L599.78,258.22 L600.26,258.25 L600.74,258.28 L601.22,258.30 L601.70,258.33 L602.19,258.36 L602.67,258.38 L603.15,258.41 L603.63,258.43 L604.11,258.45 L604.59,258.47 L605.07,258.49 L605.55,258.51 L606.03,258.53 L606.51,258.55 L606.99,258.57 L607.47,258.59 L607.96,258.60 L608.44,258.62 L608.92,258.63 L609.40,258.65 L609.88,258.66 L610.36,258.68 L610.84,258.69 L611.32,258.70 L611.80,258.71 L612.28,258.72 L612.76,258.74 L613.24,258.75 L613.73,258.76 L614.21,258.77 L614.69,258.78 L615.17,258.78 L615.65,258.79 L616.13,258.80 L616.61,258.81 L617.09,258.82 L617.57,258.83 L618.05,258.83 L618.53,258.84 L619.01,258.85 L619.50,258.85 L619.98,258.86 L620.46,258.86 L620.94,258.87 L621.42,258.88 L621.90,258.88 L622.38,258.89 L622.86,258.89 L623.34,258.89 L623.82,258.90 L624.30,258.90 L624.78,258.91 L625.27,258.91 L625.75,258.92 L626.23,258.92 L626.71,258.92 L627.19,258.93 L627.67,258.93 L628.15,258.93 L628.63,258.93 L629.11,258.94 L629.59,258.94 L630.07,258.94 L630.55,258.94 L631.03,258.95 L631.52,258.95 L632.00,258.95 L632.48,258.95 L632.96,258.96 L633.44,258.96 L633.92,258.96 L634.40,258.96 L634.88,258.96 L635.36,258.96 L635.84,258.97 L636.32,258.97 L636.80,258.97 L637.29,258.97 L637.77,258.97 L638.25,258.97 L638.73,258.97 L639.21,258.97 L639.69,258.98 L640.17,258.98 L640.65,258.98 L641.13,258.98 L641.61,258.98 L642.09,258.98 L642.57,258.98 L643.06,258.98 L643.54,258.98 L644.02,258.98 L644.50,258.98 L644.98,258.99 L645.46,258.99 L645.94,258.99 L646.42,258.99 L646.90,258.99 L647.38,258.99 L647.86,258.99 L648.34,258.99 L648.83,258.99 L649.31,258.99 L649.79,258.99 L650.27,258.99 L650.75,258.99 L651.23,258.99 L651.71,258.99 L652.19,258.99 L652.67,258.99 L653.15,258.99 L653.63,258.99 L654.11,258.99 L654.60,258.99 L655.08,258.99 L655.56,258.99 L656.04,258.99 L656.52,259.00 L657.00,259.00 L657.48,259.00 L657.96,259.00 L658.44,259.00 L658.92,259.00 L659.40,259.00 L659.88,259.00 L660.37,259.00 L660.85,259.00 L661.33,259.00 L661.81,259.00 L662.29,259.00 L662.77,259.00 L663.25,259.00 L663.73,259.00 L664.21,259.00 L664.69,259.00 L665.17,259.00 L665.65,259.00 L666.13,259.00 L666.62,259.00 L667.10,259.00 L667.58,259.00 L668.06,259.00 L668.54,259.00 L669.02,259.00 L669.50,259.00 L669.98,259.00 L670.46,259.00 L670.94,259.00 L671.42,259.00 L671.90,259.00 L672.39,259.00 L672.87,259.00 L673.35,259.00 L673.83,259.00 L674.31,259.00 L674.79,259.00 L675.27,259.00 L675.75,259.00 L676.23,259.00 L676.71,259.00 L677.19,259.00 L677.67,259.00 L678.16,259.00 L678.64,259.00 L679.12,259.00 L679.60,259.00 L680.08,259.00 L680.56,259.00 L681.04,259.00 L681.52,259.00 L682.00,259.00 L682.48,259.00 L682.96,259.00 L683.44,259.00 L683.93,259.00 L684.41,259.00 L684.89,259.00 L685.37,259.00 L685.85,259.00 L686.33,259.00 L686.81,259.00 L687.29,259.00 L687.77,259.00 L688.25,259.00 L688.73,259.00 L689.21,259.00 L689.70,259.00 L690.18,259.00 L690.66,259.00 L691.14,259.00 L691.62,259.00 L692.10,259.00 L692.58,259.00 L693.06,259.00 L693.54,259.00 L694.02,259.00 L694.50,259.00 L694.98,259.00 L695.46,259.00 L695.95,259.00 L696.43,259.00 L696.91,259.00 L697.39,259.00 L697.87,259.00 L698.35,259.00 L698.83,259.00 L699.31,259.00 L699.79,259.00 L700.27,259.00 L700.75,259.00 L701.23,259.00 L701.72,259.00 L702.20,259.00 L702.68,259.00 L703.16,259.00 L703.64,259.00 L704.12,259.00 L704.60,259.00 L705.08,259.00 L705.56,259.00 L706.04,259.00 L706.52,259.00 L707.00,259.00 L707.49,259.00 L707.97,259.00 L708.45,259.00 L708.93,259.00 L709.41,259.00 L709.89,259.00 L710.37,259.00 L710.85,259.00 L711.33,259.00 L711.81,259.00 L712.29,259.00 L712.77,259.00 L713.26,259.00 L713.74,259.00 L714.22,259.00 L714.70,259.00 L715.18,259.00 L715.66,259.00 L716.14,259.00 L716.62,259.00 L717.10,259.00 L717.58,259.00 L718.06,259.00 L718.54,259.00 L719.03,259.00 L719.51,259.00 L719.99,259.00 L720.47,259.00 L720.95,259.00 L721.43,259.00 L721.91,259.00 L722.39,259.00 L722.87,259.00 L723.35,259.00 L723.83,259.00 L724.31,259.00 L724.80,259.00 L725.28,259.00 L725.76,259.00 L726.24,259.00 L726.72,259.00 L727.20,259.00 L727.68,259.00" fill="none" stroke="#800080" stroke-width="1.9" stroke-linejoin="round" stroke-linecap="round" />
<path d="M469.50,259.00 L469.83,259.00 L470.15,259.00 L470.48,259.00 L470.81,259.00 L471.13,259.00 L471.46,259.00 L471.78,259.00 L472.11,259.00 L472.44,259.00 L472.76,259.00 L473.09,259.00 L473.42,259.00 L473.74,259.00 L474.07,259.00 L474.40,259.00 L474.72,259.00 L475.05,259.00 L475.37,259.00 L475.70,259.00 L476.03,259.00 L476.35,259.00 L476.68,259.00 L477.01,259.00 L477.33,259.00 L477.66,259.00 L477.98,259.00 L478.31,258.99 L478.64,258.99 L478.96,258.99 L479.29,258.99 L479.62,258.99 L479.94,258.99 L480.27,258.99 L480.60,258.99 L480.92,258.99 L481.25,258.98 L481.57,258.98 L481.90,258.98 L482.23,258.98 L482.55,258.97 L482.88,258.97 L483.21,258.97 L483.53,258.96 L483.86,258.96 L484.19,258.95 L484.51,258.95 L484.84,258.94 L485.16,258.93 L485.49,258.93 L485.82,258.92 L486.14,258.91 L486.47,258.90 L486.80,258.89 L487.12,258.87 L487.45,258.86 L487.78,258.85 L488.10,258.83 L488.43,258.81 L488.75,258.79 L489.08,258.77 L489.41,258.75 L489.73,258.72 L490.06,258.70 L490.39,258.67 L490.71,258.64 L491.04,258.60 L491.36,258.57 L491.69,258.53 L492.02,258.48 L492.34,258.44 L492.67,258.39 L493.00,258.33 L493.32,258.28 L493.65,258.22 L493.98,258.15 L494.30,258.08 L494.63,258.01 L494.95,257.93 L495.28,257.84 L495.61,257.75 L495.93,257.66 L496.26,257.56 L496.59,257.45 L496.91,257.34 L497.24,257.22 L497.57,257.09 L497.89,256.96 L498.22,256.82 L498.54,256.67 L498.87,256.51 L499.20,256.35 L499.52,256.17 L499.85,255.99 L500.18,255.80 L500.50,255.61 L500.83,255.40 L501.16,255.18 L501.48,254.96 L501.81,254.72 L502.13,254.47 L502.46,254.22 L502.79,253.95 L503.11,253.68 L503.44,253.39 L503.77,253.10 L504.09,252.79 L504.42,252.48 L504.75,252.15 L505.07,251.81 L505.40,251.46 L505.72,251.11 L506.05,250.74 L506.38,250.36 L506.70,249.97 L507.03,249.57 L507.36,249.16 L507.68,248.74 L508.01,248.32 L508.33,247.88 L508.66,247.43 L508.99,246.98 L509.31,246.51 L509.64,246.04 L509.97,245.56 L510.29,245.07 L510.62,244.58 L510.95,244.08 L511.27,243.57 L511.60,243.05 L511.92,242.53 L512.25,242.00 L512.58,241.47 L512.90,240.94 L513.23,240.40 L513.56,239.85 L513.88,239.31 L514.21,238.76 L514.54,238.21 L514.86,237.65 L515.19,237.10 L515.51,236.55 L515.84,235.99 L516.17,235.44 L516.49,234.89 L516.82,234.34 L517.15,233.79 L517.47,233.25 L517.80,232.71 L518.13,232.17 L518.45,231.63 L518.78,231.11 L519.10,230.58 L519.43,230.07 L519.76,229.55 L520.08,229.05 L520.41,228.55 L520.74,228.07 L521.06,227.58 L521.39,227.11 L521.71,226.65 L522.04,226.20 L522.37,225.75 L522.69,225.32 L523.02,224.89 L523.35,224.48 L523.67,224.08 L524.00,223.69 L524.33,223.31 L524.65,222.94 L524.98,222.59 L525.30,222.24 L525.63,221.91 L525.96,221.59 L526.28,221.29 L526.61,220.99 L526.94,220.71 L527.26,220.44 L527.59,220.19 L527.92,219.95 L528.24,219.72 L528.57,219.50 L528.89,219.30 L529.22,219.11 L529.55,218.93 L529.87,218.76 L530.20,218.61 L530.53,218.47 L530.85,218.34 L531.18,218.23 L531.51,218.12 L531.83,218.03 L532.16,217.95 L532.48,217.88 L532.81,217.82 L533.14,217.78 L533.46,217.74 L533.79,217.72 L534.12,217.70 L534.44,217.70 L534.93,217.71 L535.41,217.76 L535.90,217.83 L536.38,217.93 L536.86,218.06 L537.35,218.22 L537.83,218.40 L538.32,218.61 L538.80,218.84 L539.29,219.09 L539.77,219.36 L540.25,219.66 L540.74,219.97 L541.22,220.31 L541.71,220.66 L542.19,221.03 L542.68,221.42 L543.16,221.82 L543.64,222.24 L544.13,222.66 L544.61,223.11 L545.10,223.56 L545.58,224.02 L546.07,224.49 L546.55,224.98 L547.03,225.47 L547.52,225.96 L548.00,226.47 L548.49,226.97 L548.97,227.49 L549.46,228.01 L549.94,228.53 L550.42,229.05 L550.91,229.58 L551.39,230.11 L551.88,230.63 L552.36,231.16 L552.85,231.69 L553.33,232.22 L553.81,232.75 L554.30,233.27 L554.78,233.79 L555.27,234.31 L555.75,234.83 L556.24,235.35 L556.72,235.85 L557.20,236.36 L557.69,236.86 L558.17,237.36 L558.66,237.85 L559.14,238.34 L559.63,238.82 L560.11,239.29 L560.59,239.76 L561.08,240.22 L561.56,240.68 L562.05,241.13 L562.53,241.57 L563.02,242.01 L563.50,242.44 L563.98,242.86 L564.47,243.27 L564.95,243.68 L565.44,244.08 L565.92,244.48 L566.41,244.86 L566.89,245.24 L567.37,245.61 L567.86,245.98 L568.34,246.34 L568.83,246.69 L569.31,247.03 L569.80,247.37 L570.28,247.69 L570.77,248.02 L571.25,248.33 L571.73,248.64 L572.22,248.94 L572.70,249.23 L573.19,249.52 L573.67,249.80 L574.16,250.07 L574.64,250.34 L575.12,250.60 L575.61,250.85 L576.09,251.10 L576.58,251.34 L577.06,251.57 L577.55,251.80 L578.03,252.03 L578.51,252.24 L579.00,252.45 L579.48,252.66 L579.97,252.86 L580.45,253.05 L580.94,253.24 L581.42,253.43 L581.90,253.61 L582.39,253.78 L582.87,253.95 L583.36,254.11 L583.84,254.27 L584.33,254.43 L584.81,254.58 L585.29,254.72 L585.78,254.87 L586.26,255.00 L586.75,255.14 L587.23,255.27 L587.72,255.39 L588.20,255.51 L588.68,255.63 L589.17,255.75 L589.65,255.86 L590.14,255.96 L590.62,256.07 L591.11,256.17 L591.59,256.27 L592.07,256.36 L592.56,256.45 L593.04,256.54 L593.53,256.63 L594.01,256.71 L594.50,256.79 L594.98,256.87 L595.46,256.94 L595.95,257.02 L596.43,257.09 L596.92,257.16 L597.40,257.22 L597.89,257.29 L598.37,257.35 L598.85,257.41 L599.34,257.46 L599.82,257.52 L600.31,257.57 L600.79,257.63 L601.28,257.68 L601.76,257.72 L602.24,257.77 L602.73,257.82 L603.21,257.86 L603.70,257.90 L604.18,257.94 L604.67,257.98 L605.15,258.02 L605.64,258.05 L606.12,258.09 L606.60,258.12 L607.09,258.16 L607.57,258.19 L608.06,258.22 L608.54,258.25 L609.03,258.28 L609.51,258.30 L609.99,258.33 L610.48,258.36 L610.96,258.38 L611.45,258.40 L611.93,258.43 L612.42,258.45 L612.90,258.47 L613.38,258.49 L613.87,258.51 L614.35,258.53 L614.84,258.55 L615.32,258.56 L615.81,258.58 L616.29,258.60 L616.77,258.61 L617.26,258.63 L617.74,258.64 L618.23,258.66 L618.71,258.67 L619.20,258.68 L619.68,258.69 L620.16,258.71 L620.65,258.72 L621.13,258.73 L621.62,258.74 L622.10,258.75 L622.59,258.76 L623.07,258.77 L623.55,258.78 L624.04,258.79 L624.52,258.80 L625.01,258.80 L625.49,258.81 L625.98,258.82 L626.46,258.83 L626.94,258.83 L627.43,258.84 L627.91,258.85 L628.40,258.85 L628.88,258.86 L629.37,258.86 L629.85,258.87 L630.33,258.87 L630.82,258.88 L631.30,258.88 L631.79,258.89 L632.27,258.89 L632.76,258.90 L633.24,258.90 L633.72,258.91 L634.21,258.91 L634.69,258.91 L635.18,258.92 L635.66,258.92 L636.15,258.92 L636.63,258.93 L637.11,258.93 L637.60,258.93 L638.08,258.94 L638.57,258.94 L639.05,258.94 L639.54,258.94 L640.02,258.95 L640.51,258.95 L640.99,258.95 L641.47,258.95 L641.96,258.95 L642.44,258.96 L642.93,258.96 L643.41,258.96 L643.90,258.96 L644.38,258.96 L644.86,258.96 L645.35,258.97 L645.83,258.97 L646.32,258.97 L646.80,258.97 L647.29,258.97 L647.77,258.97 L648.25,258.97 L648.74,258.97 L649.22,258.98 L649.71,258.98 L650.19,258.98 L650.68,258.98 L651.16,258.98 L651.64,258.98 L652.13,258.98 L652.61,258.98 L653.10,258.98 L653.58,258.98 L654.07,258.98 L654.55,258.98 L655.03,258.99 L655.52,258.99 L656.00,258.99 L656.49,258.99 L656.97,258.99 L657.46,258.99 L657.94,258.99 L658.42,258.99 L658.91,258.99 L659.39,258.99 L659.88,258.99 L660.36,258.99 L660.85,258.99 L661.33,258.99 L661.81,258.99 L662.30,258.99 L662.78,258.99 L663.27,258.99 L663.75,258.99 L664.24,258.99 L664.72,258.99 L665.20,258.99 L665.69,258.99 L666.17,258.99 L666.66,258.99 L667.14,259.00 L667.63,259.00 L668.11,259.00 L668.59,259.00 L669.08,259.00 L669.56,259.00 L670.05,259.00 L670.53,259.00 L671.02,259.00 L671.50,259.00 L671.98,259.00 L672.47,259.00 L672.95,259.00 L673.44,259.00 L673.92,259.00 L674.41,259.00 L674.89,259.00 L675.38,259.00 L675.86,259.00 L676.34,259.00 L676.83,259.00 L677.31,259.00 L677.80,259.00 L678.28,259.00 L678.77,259.00 L679.25,259.00 L679.73,259.00 L680.22,259.00 L680.70,259.00 L681.19,259.00 L681.67,259.00 L682.16,259.00 L682.64,259.00 L683.12,259.00 L683.61,259.00 L684.09,259.00 L684.58,259.00 L685.06,259.00 L685.55,259.00 L686.03,259.00 L686.51,259.00 L687.00,259.00 L687.48,259.00 L687.97,259.00 L688.45,259.00 L688.94,259.00 L689.42,259.00 L689.90,259.00 L690.39,259.00 L690.87,259.00 L691.36,259.00 L691.84,259.00 L692.33,259.00 L692.81,259.00 L693.29,259.00 L693.78,259.00 L694.26,259.00 L694.75,259.00 L695.23,259.00 L695.72,259.00 L696.20,259.00 L696.68,259.00 L697.17,259.00 L697.65,259.00 L698.14,259.00 L698.62,259.00 L699.11,259.00 L699.59,259.00 L700.07,259.00 L700.56,259.00 L701.04,259.00 L701.53,259.00 L702.01,259.00 L702.50,259.00 L702.98,259.00 L703.46,259.00 L703.95,259.00 L704.43,259.00 L704.92,259.00 L705.40,259.00 L705.89,259.00 L706.37,259.00 L706.85,259.00 L707.34,259.00 L707.82,259.00 L708.31,259.00 L708.79,259.00 L709.28,259.00 L709.76,259.00 L710.25,259.00 L710.73,259.00 L711.21,259.00 L711.70,259.00 L712.18,259.00 L712.67,259.00 L713.15,259.00 L713.64,259.00 L714.12,259.00 L714.60,259.00 L715.09,259.00 L715.57,259.00 L716.06,259.00 L716.54,259.00 L717.03,259.00 L717.51,259.00 L717.99,259.00 L718.48,259.00 L718.96,259.00 L719.45,259.00 L719.93,259.00 L720.42,259.00 L720.90,259.00 L721.38,259.00 L721.87,259.00 L722.35,259.00 L722.84,259.00 L723.32,259.00 L723.81,259.00 L724.29,259.00 L724.77,259.00 L725.26,259.00 L725.74,259.00 L726.23,259.00 L726.71,259.00 L727.20,259.00 L727.68,259.00" fill="none" stroke="#800000" stroke-width="1.9" stroke-linejoin="round" stroke-linecap="round" />
<path d="M469.50,259.00 L469.80,259.00 L470.11,259.00 L470.41,259.00 L470.72,259.00 L471.02,259.00 L471.33,259.00 L471.63,259.00 L471.94,259.00 L472.24,259.00 L472.54,259.00 L472.85,259.00 L473.15,259.00 L473.46,259.00 L473.76,259.00 L474.07,259.00 L474.37,259.00 L474.67,259.00 L474.98,259.00 L475.28,258.99 L475.59,258.99 L475.89,258.99 L476.20,258.99 L476.50,258.99 L476.81,258.99 L477.11,258.99 L477.41,258.99 L477.72,258.98 L478.02,258.98 L478.33,258.98 L478.63,258.98 L478.94,258.97 L479.24,258.97 L479.54,258.97 L479.85,258.96 L480.15,258.96 L480.46,258.95 L480.76,258.95 L481.07,258.94 L481.37,258.93 L481.68,258.92 L481.98,258.92 L482.28,258.91 L482.59,258.90 L482.89,258.88 L483.20,258.87 L483.50,258.86 L483.81,258.84 L484.11,258.82 L484.41,258.80 L484.72,258.78 L485.02,258.76 L485.33,258.74 L485.63,258.71 L485.94,258.68 L486.24,258.65 L486.55,258.61 L486.85,258.58 L487.15,258.53 L487.46,258.49 L487.76,258.44 L488.07,258.39 L488.37,258.34 L488.68,258.28 L488.98,258.21 L489.29,258.14 L489.59,258.07 L489.89,257.99 L490.20,257.90 L490.50,257.81 L490.81,257.71 L491.11,257.61 L491.42,257.50 L491.72,257.38 L492.02,257.25 L492.33,257.12 L492.63,256.97 L492.94,256.82 L493.24,256.66 L493.55,256.49 L493.85,256.31 L494.16,256.12 L494.46,255.92 L494.76,255.70 L495.07,255.48 L495.37,255.24 L495.68,254.99 L495.98,254.73 L496.29,254.46 L496.59,254.17 L496.89,253.87 L497.20,253.56 L497.50,253.23 L497.81,252.89 L498.11,252.53 L498.42,252.15 L498.72,251.77 L499.03,251.36 L499.33,250.94 L499.63,250.50 L499.94,250.05 L500.24,249.58 L500.55,249.10 L500.85,248.60 L501.16,248.08 L501.46,247.54 L501.77,246.99 L502.07,246.42 L502.37,245.83 L502.68,245.23 L502.98,244.61 L503.29,243.97 L503.59,243.32 L503.90,242.65 L504.20,241.97 L504.50,241.27 L504.81,240.55 L505.11,239.82 L505.42,239.07 L505.72,238.31 L506.03,237.54 L506.33,236.75 L506.64,235.95 L506.94,235.14 L507.24,234.32 L507.55,233.48 L507.85,232.63 L508.16,231.78 L508.46,230.91 L508.77,230.04 L509.07,229.15 L509.37,228.26 L509.68,227.37 L509.98,226.46 L510.29,225.56 L510.59,224.65 L510.90,223.73 L511.20,222.81 L511.51,221.89 L511.81,220.97 L512.11,220.05 L512.42,219.13 L512.72,218.21 L513.03,217.30 L513.33,216.38 L513.64,215.48 L513.94,214.57 L514.24,213.67 L514.55,212.78 L514.85,211.90 L515.16,211.02 L515.46,210.16 L515.77,209.30 L516.07,208.45 L516.38,207.62 L516.68,206.79 L516.98,205.98 L517.29,205.19 L517.59,204.40 L517.90,203.63 L518.20,202.88 L518.51,202.14 L518.81,201.42 L519.12,200.72 L519.42,200.03 L519.72,199.36 L520.03,198.71 L520.33,198.07 L520.64,197.46 L520.94,196.87 L521.25,196.29 L521.55,195.73 L521.85,195.20 L522.16,194.68 L522.46,194.19 L522.77,193.72 L523.07,193.26 L523.38,192.83 L523.68,192.42 L523.99,192.03 L524.29,191.66 L524.59,191.31 L524.90,190.98 L525.20,190.67 L525.51,190.39 L525.81,190.12 L526.12,189.87 L526.42,189.65 L526.72,189.44 L527.03,189.25 L527.33,189.09 L527.64,188.94 L527.94,188.81 L528.25,188.70 L528.55,188.60 L528.86,188.53 L529.16,188.47 L529.46,188.43 L529.77,188.41 L530.07,188.40 L530.57,188.43 L531.06,188.51 L531.56,188.65 L532.05,188.85 L532.55,189.09 L533.04,189.39 L533.54,189.73 L534.04,190.12 L534.53,190.56 L535.03,191.04 L535.52,191.55 L536.02,192.11 L536.51,192.71 L537.01,193.33 L537.50,194.00 L538.00,194.69 L538.49,195.41 L538.99,196.16 L539.48,196.94 L539.98,197.73 L540.47,198.55 L540.97,199.39 L541.46,200.25 L541.96,201.13 L542.45,202.01 L542.95,202.92 L543.44,203.83 L543.94,204.75 L544.44,205.69 L544.93,206.62 L545.43,207.57 L545.92,208.52 L546.42,209.47 L546.91,210.43 L547.41,211.38 L547.90,212.33 L548.40,213.29 L548.89,214.24 L549.39,215.18 L549.88,216.13 L550.38,217.06 L550.87,218.00 L551.37,218.92 L551.86,219.84 L552.36,220.75 L552.85,221.65 L553.35,222.54 L553.85,223.42 L554.34,224.29 L554.84,225.15 L555.33,225.99 L555.83,226.83 L556.32,227.65 L556.82,228.47 L557.31,229.26 L557.81,230.05 L558.30,230.82 L558.80,231.58 L559.29,232.33 L559.79,233.06 L560.28,233.78 L560.78,234.49 L561.27,235.18 L561.77,235.85 L562.26,236.52 L562.76,237.17 L563.26,237.80 L563.75,238.43 L564.25,239.03 L564.74,239.63 L565.24,240.21 L565.73,240.78 L566.23,241.33 L566.72,241.87 L567.22,242.40 L567.71,242.91 L568.21,243.41 L568.70,243.90 L569.20,244.38 L569.69,244.84 L570.19,245.30 L570.68,245.74 L571.18,246.16 L571.67,246.58 L572.17,246.99 L572.66,247.38 L573.16,247.76 L573.66,248.13 L574.15,248.50 L574.65,248.85 L575.14,249.19 L575.64,249.52 L576.13,249.84 L576.63,250.15 L577.12,250.46 L577.62,250.75 L578.11,251.03 L578.61,251.31 L579.10,251.58 L579.60,251.84 L580.09,252.09 L580.59,252.33 L581.08,252.57 L581.58,252.79 L582.07,253.02 L582.57,253.23 L583.07,253.44 L583.56,253.64 L584.06,253.83 L584.55,254.02 L585.05,254.20 L585.54,254.37 L586.04,254.54 L586.53,254.71 L587.03,254.86 L587.52,255.02 L588.02,255.16 L588.51,255.31 L589.01,255.44 L589.50,255.58 L590.00,255.70 L590.49,255.83 L590.99,255.95 L591.48,256.06 L591.98,256.17 L592.48,256.28 L592.97,256.39 L593.47,256.48 L593.96,256.58 L594.46,256.67 L594.95,256.76 L595.45,256.85 L595.94,256.93 L596.44,257.01 L596.93,257.09 L597.43,257.16 L597.92,257.24 L598.42,257.30 L598.91,257.37 L599.41,257.43 L599.90,257.50 L600.40,257.56 L600.89,257.61 L601.39,257.67 L601.89,257.72 L602.38,257.77 L602.88,257.82 L603.37,257.87 L603.87,257.91 L604.36,257.96 L604.86,258.00 L605.35,258.04 L605.85,258.08 L606.34,258.11 L606.84,258.15 L607.33,258.18 L607.83,258.22 L608.32,258.25 L608.82,258.28 L609.31,258.31 L609.81,258.34 L610.30,258.36 L610.80,258.39 L611.29,258.42 L611.79,258.44 L612.29,258.46 L612.78,258.48 L613.28,258.51 L613.77,258.53 L614.27,258.55 L614.76,258.56 L615.26,258.58 L615.75,258.60 L616.25,258.62 L616.74,258.63 L617.24,258.65 L617.73,258.66 L618.23,258.68 L618.72,258.69 L619.22,258.70 L619.71,258.72 L620.21,258.73 L620.70,258.74 L621.20,258.75 L621.70,258.76 L622.19,258.77 L622.69,258.78 L623.18,258.79 L623.68,258.80 L624.17,258.81 L624.67,258.82 L625.16,258.82 L625.66,258.83 L626.15,258.84 L626.65,258.85 L627.14,258.85 L627.64,258.86 L628.13,258.86 L628.63,258.87 L629.12,258.88 L629.62,258.88 L630.11,258.89 L630.61,258.89 L631.11,258.90 L631.60,258.90 L632.10,258.90 L632.59,258.91 L633.09,258.91 L633.58,258.92 L634.08,258.92 L634.57,258.92 L635.07,258.93 L635.56,258.93 L636.06,258.93 L636.55,258.94 L637.05,258.94 L637.54,258.94 L638.04,258.94 L638.53,258.95 L639.03,258.95 L639.52,258.95 L640.02,258.95 L640.52,258.96 L641.01,258.96 L641.51,258.96 L642.00,258.96 L642.50,258.96 L642.99,258.96 L643.49,258.97 L643.98,258.97 L644.48,258.97 L644.97,258.97 L645.47,258.97 L645.96,258.97 L646.46,258.97 L646.95,258.98 L647.45,258.98 L647.94,258.98 L648.44,258.98 L648.93,258.98 L649.43,258.98 L649.92,258.98 L650.42,258.98 L650.92,258.98 L651.41,258.98 L651.91,258.98 L652.40,258.98 L652.90,258.99 L653.39,258.99 L653.89,258.99 L654.38,258.99 L654.88,258.99 L655.37,258.99 L655.87,258.99 L656.36,258.99 L656.86,258.99 L657.35,258.99 L657.85,258.99 L658.34,258.99 L658.84,258.99 L659.33,258.99 L659.83,258.99 L660.33,258.99 L660.82,258.99 L661.32,258.99 L661.81,258.99 L662.31,258.99 L662.80,258.99 L663.30,258.99 L663.79,258.99 L664.29,259.00 L664.78,259.00 L665.28,259.00 L665.77,259.00 L666.27,259.00 L666.76,259.00 L667.26,259.00 L667.75,259.00 L668.25,259.00 L668.74,259.00 L669.24,259.00 L669.74,259.00 L670.23,259.00 L670.73,259.00 L671.22,259.00 L671.72,259.00 L672.21,259.00 L672.71,259.00 L673.20,259.00 L673.70,259.00 L674.19,259.00 L674.69,259.00 L675.18,259.00 L675.68,259.00 L676.17,259.00 L676.67,259.00 L677.16,259.00 L677.66,259.00 L678.15,259.00 L678.65,259.00 L679.14,259.00 L679.64,259.00 L680.14,259.00 L680.63,259.00 L681.13,259.00 L681.62,259.00 L682.12,259.00 L682.61,259.00 L683.11,259.00 L683.60,259.00 L684.10,259.00 L684.59,259.00 L685.09,259.00 L685.58,259.00 L686.08,259.00 L686.57,259.00 L687.07,259.00 L687.56,259.00 L688.06,259.00 L688.55,259.00 L689.05,259.00 L689.55,259.00 L690.04,259.00 L690.54,259.00 L691.03,259.00 L691.53,259.00 L692.02,259.00 L692.52,259.00 L693.01,259.00 L693.51,259.00 L694.00,259.00 L694.50,259.00 L694.99,259.00 L695.49,259.00 L695.98,259.00 L696.48,259.00 L696.97,259.00 L697.47,259.00 L697.96,259.00 L698.46,259.00 L698.96,259.00 L699.45,259.00 L699.95,259.00 L700.44,259.00 L700.94,259.00 L701.43,259.00 L701.93,259.00 L702.42,259.00 L702.92,259.00 L703.41,259.00 L703.91,259.00 L704.40,259.00 L704.90,259.00 L705.39,259.00 L705.89,259.00 L706.38,259.00 L706.88,259.00 L707.37,259.00 L707.87,259.00 L708.37,259.00 L708.86,259.00 L709.36,259.00 L709.85,259.00 L710.35,259.00 L710.84,259.00 L711.34,259.00 L711.83,259.00 L712.33,259.00 L712.82,259.00 L713.32,259.00 L713.81,259.00 L714.31,259.00 L714.80,259.00 L715.30,259.00 L715.79,259.00 L716.29,259.00 L716.78,259.00 L717.28,259.00 L717.77,259.00 L718.27,259.00 L718.77,259.00 L719.26,259.00 L719.76,259.00 L720.25,259.00 L720.75,259.00 L721.24,259.00 L721.74,259.00 L722.23,259.00 L722.73,259.00 L723.22,259.00 L723.72,259.00 L724.21,259.00 L724.71,259.00 L725.20,259.00 L725.70,259.00 L726.19,259.00 L726.69,259.00 L727.18,259.00 L727.68,259.00" fill="none" stroke="#ff0000" stroke-width="1.9" stroke-linejoin="round" stroke-linecap="round" />
<path d="M469.50,259.00 L469.80,259.00 L470.09,259.00 L470.39,259.00 L470.68,259.00 L470.98,259.00 L471.27,259.00 L471.57,259.00 L471.86,259.00 L472.16,258.99 L472.45,258.99 L472.75,258.99 L473.04,258.99 L473.34,258.99 L473.64,258.99 L473.93,258.99 L474.23,258.99 L474.52,258.98 L474.82,258.98 L475.11,258.98 L475.41,258.98 L475.70,258.97 L476.00,258.97 L476.29,258.97 L476.59,258.96 L476.89,258.96 L477.18,258.95 L477.48,258.95 L477.77,258.94 L478.07,258.93 L478.36,258.92 L478.66,258.92 L478.95,258.91 L479.25,258.89 L479.54,258.88 L479.84,258.87 L480.13,258.85 L480.43,258.84 L480.73,258.82 L481.02,258.80 L481.32,258.78 L481.61,258.75 L481.91,258.73 L482.20,258.70 L482.50,258.67 L482.79,258.63 L483.09,258.60 L483.38,258.56 L483.68,258.51 L483.97,258.46 L484.27,258.41 L484.57,258.36 L484.86,258.30 L485.16,258.23 L485.45,258.16 L485.75,258.08 L486.04,258.00 L486.34,257.91 L486.63,257.81 L486.93,257.71 L487.22,257.60 L487.52,257.48 L487.82,257.35 L488.11,257.21 L488.41,257.06 L488.70,256.91 L489.00,256.74 L489.29,256.56 L489.59,256.37 L489.88,256.17 L490.18,255.96 L490.47,255.73 L490.77,255.49 L491.06,255.23 L491.36,254.96 L491.66,254.67 L491.95,254.37 L492.25,254.05 L492.54,253.71 L492.84,253.35 L493.13,252.98 L493.43,252.58 L493.72,252.17 L494.02,251.73 L494.31,251.28 L494.61,250.80 L494.90,250.30 L495.20,249.78 L495.50,249.23 L495.79,248.66 L496.09,248.07 L496.38,247.45 L496.68,246.80 L496.97,246.13 L497.27,245.44 L497.56,244.71 L497.86,243.96 L498.15,243.19 L498.45,242.38 L498.75,241.55 L499.04,240.69 L499.34,239.81 L499.63,238.89 L499.93,237.95 L500.22,236.98 L500.52,235.98 L500.81,234.95 L501.11,233.90 L501.40,232.81 L501.70,231.70 L501.99,230.57 L502.29,229.41 L502.59,228.22 L502.88,227.00 L503.18,225.76 L503.47,224.50 L503.77,223.21 L504.06,221.89 L504.36,220.56 L504.65,219.20 L504.95,217.82 L505.24,216.42 L505.54,215.00 L505.83,213.56 L506.13,212.11 L506.43,210.64 L506.72,209.15 L507.02,207.65 L507.31,206.13 L507.61,204.61 L507.90,203.07 L508.20,201.52 L508.49,199.97 L508.79,198.40 L509.08,196.84 L509.38,195.26 L509.68,193.69 L509.97,192.11 L510.27,190.53 L510.56,188.95 L510.86,187.38 L511.15,185.81 L511.45,184.24 L511.74,182.68 L512.04,181.13 L512.33,179.58 L512.63,178.05 L512.92,176.53 L513.22,175.02 L513.52,173.53 L513.81,172.05 L514.11,170.59 L514.40,169.15 L514.70,167.72 L514.99,166.32 L515.29,164.93 L515.58,163.57 L515.88,162.24 L516.17,160.93 L516.47,159.64 L516.76,158.38 L517.06,157.15 L517.36,155.94 L517.65,154.76 L517.95,153.62 L518.24,152.50 L518.54,151.42 L518.83,150.36 L519.13,149.34 L519.42,148.35 L519.72,147.40 L520.01,146.47 L520.31,145.58 L520.61,144.73 L520.90,143.91 L521.20,143.12 L521.49,142.37 L521.79,141.65 L522.08,140.97 L522.38,140.32 L522.67,139.71 L522.97,139.13 L523.26,138.58 L523.56,138.07 L523.85,137.60 L524.15,137.15 L524.45,136.75 L524.74,136.37 L525.04,136.03 L525.33,135.72 L525.63,135.44 L525.92,135.19 L526.22,134.98 L526.51,134.79 L526.81,134.64 L527.10,134.51 L527.40,134.42 L527.69,134.35 L527.99,134.31 L528.29,134.30 L528.79,134.35 L529.29,134.50 L529.78,134.74 L530.28,135.09 L530.78,135.52 L531.28,136.04 L531.78,136.64 L532.28,137.33 L532.78,138.10 L533.28,138.94 L533.78,139.85 L534.28,140.83 L534.78,141.88 L535.28,142.99 L535.78,144.15 L536.28,145.37 L536.78,146.65 L537.28,147.97 L537.78,149.33 L538.28,150.74 L538.78,152.18 L539.28,153.66 L539.78,155.17 L540.28,156.71 L540.78,158.28 L541.28,159.87 L541.78,161.48 L542.28,163.10 L542.78,164.75 L543.28,166.40 L543.78,168.07 L544.28,169.74 L544.78,171.42 L545.28,173.10 L545.78,174.78 L546.28,176.47 L546.78,178.15 L547.28,179.82 L547.78,181.49 L548.28,183.15 L548.77,184.81 L549.27,186.45 L549.77,188.08 L550.27,189.70 L550.77,191.30 L551.27,192.89 L551.77,194.46 L552.27,196.02 L552.77,197.55 L553.27,199.07 L553.77,200.56 L554.27,202.04 L554.77,203.50 L555.27,204.93 L555.77,206.34 L556.27,207.73 L556.77,209.09 L557.27,210.43 L557.77,211.75 L558.27,213.05 L558.77,214.32 L559.27,215.56 L559.77,216.78 L560.27,217.98 L560.77,219.15 L561.27,220.30 L561.77,221.43 L562.27,222.53 L562.77,223.60 L563.27,224.65 L563.77,225.68 L564.27,226.68 L564.77,227.66 L565.27,228.62 L565.77,229.55 L566.27,230.46 L566.77,231.35 L567.26,232.21 L567.76,233.06 L568.26,233.88 L568.76,234.68 L569.26,235.46 L569.76,236.22 L570.26,236.95 L570.76,237.67 L571.26,238.37 L571.76,239.05 L572.26,239.71 L572.76,240.35 L573.26,240.97 L573.76,241.57 L574.26,242.16 L574.76,242.73 L575.26,243.28 L575.76,243.82 L576.26,244.34 L576.76,244.84 L577.26,245.33 L577.76,245.81 L578.26,246.27 L578.76,246.71 L579.26,247.14 L579.76,247.56 L580.26,247.97 L580.76,248.36 L581.26,248.74 L581.76,249.10 L582.26,249.46 L582.76,249.80 L583.26,250.13 L583.76,250.46 L584.26,250.77 L584.76,251.07 L585.26,251.36 L585.76,251.64 L586.25,251.91 L586.75,252.17 L587.25,252.42 L587.75,252.67 L588.25,252.90 L588.75,253.13 L589.25,253.35 L589.75,253.56 L590.25,253.77 L590.75,253.97 L591.25,254.16 L591.75,254.34 L592.25,254.52 L592.75,254.69 L593.25,254.85 L593.75,255.01 L594.25,255.17 L594.75,255.31 L595.25,255.46 L595.75,255.59 L596.25,255.73 L596.75,255.85 L597.25,255.98 L597.75,256.09 L598.25,256.21 L598.75,256.32 L599.25,256.42 L599.75,256.52 L600.25,256.62 L600.75,256.72 L601.25,256.81 L601.75,256.89 L602.25,256.98 L602.75,257.06 L603.25,257.14 L603.75,257.21 L604.25,257.28 L604.75,257.35 L605.24,257.42 L605.74,257.48 L606.24,257.54 L606.74,257.60 L607.24,257.66 L607.74,257.71 L608.24,257.76 L608.74,257.81 L609.24,257.86 L609.74,257.91 L610.24,257.95 L610.74,258.00 L611.24,258.04 L611.74,258.08 L612.24,258.12 L612.74,258.15 L613.24,258.19 L613.74,258.22 L614.24,258.25 L614.74,258.28 L615.24,258.31 L615.74,258.34 L616.24,258.37 L616.74,258.40 L617.24,258.42 L617.74,258.45 L618.24,258.47 L618.74,258.49 L619.24,258.51 L619.74,258.53 L620.24,258.55 L620.74,258.57 L621.24,258.59 L621.74,258.61 L622.24,258.62 L622.74,258.64 L623.24,258.65 L623.74,258.67 L624.23,258.68 L624.73,258.70 L625.23,258.71 L625.73,258.72 L626.23,258.73 L626.73,258.75 L627.23,258.76 L627.73,258.77 L628.23,258.78 L628.73,258.79 L629.23,258.80 L629.73,258.80 L630.23,258.81 L630.73,258.82 L631.23,258.83 L631.73,258.84 L632.23,258.84 L632.73,258.85 L633.23,258.86 L633.73,258.86 L634.23,258.87 L634.73,258.87 L635.23,258.88 L635.73,258.88 L636.23,258.89 L636.73,258.89 L637.23,258.90 L637.73,258.90 L638.23,258.91 L638.73,258.91 L639.23,258.92 L639.73,258.92 L640.23,258.92 L640.73,258.93 L641.23,258.93 L641.73,258.93 L642.23,258.94 L642.72,258.94 L643.22,258.94 L643.72,258.94 L644.22,258.95 L644.72,258.95 L645.22,258.95 L645.72,258.95 L646.22,258.96 L646.72,258.96 L647.22,258.96 L647.72,258.96 L648.22,258.96 L648.72,258.96 L649.22,258.97 L649.72,258.97 L650.22,258.97 L650.72,258.97 L651.22,258.97 L651.72,258.97 L652.22,258.97 L652.72,258.98 L653.22,258.98 L653.72,258.98 L654.22,258.98 L654.72,258.98 L655.22,258.98 L655.72,258.98 L656.22,258.98 L656.72,258.98 L657.22,258.98 L657.72,258.98 L658.22,258.99 L658.72,258.99 L659.22,258.99 L659.72,258.99 L660.22,258.99 L660.72,258.99 L661.22,258.99 L661.71,258.99 L662.21,258.99 L662.71,258.99 L663.21,258.99 L663.71,258.99 L664.21,258.99 L664.71,258.99 L665.21,258.99 L665.71,258.99 L666.21,258.99 L666.71,258.99 L667.21,258.99 L667.71,258.99 L668.21,258.99 L668.71,258.99 L669.21,258.99 L669.71,258.99 L670.21,259.00 L670.71,259.00 L671.21,259.00 L671.71,259.00 L672.21,259.00 L672.71,259.00 L673.21,259.00 L673.71,259.00 L674.21,259.00 L674.71,259.00 L675.21,259.00 L675.71,259.00 L676.21,259.00 L676.71,259.00 L677.21,259.00 L677.71,259.00 L678.21,259.00 L678.71,259.00 L679.21,259.00 L679.71,259.00 L680.21,259.00 L680.70,259.00 L681.20,259.00 L681.70,259.00 L682.20,259.00 L682.70,259.00 L683.20,259.00 L683.70,259.00 L684.20,259.00 L684.70,259.00 L685.20,259.00 L685.70,259.00 L686.20,259.00 L686.70,259.00 L687.20,259.00 L687.70,259.00 L688.20,259.00 L688.70,259.00 L689.20,259.00 L689.70,259.00 L690.20,259.00 L690.70,259.00 L691.20,259.00 L691.70,259.00 L692.20,259.00 L692.70,259.00 L693.20,259.00 L693.70,259.00 L694.20,259.00 L694.70,259.00 L695.20,259.00 L695.70,259.00 L696.20,259.00 L696.70,259.00 L697.20,259.00 L697.70,259.00 L698.20,259.00 L698.70,259.00 L699.20,259.00 L699.69,259.00 L700.19,259.00 L700.69,259.00 L701.19,259.00 L701.69,259.00 L702.19,259.00 L702.69,259.00 L703.19,259.00 L703.69,259.00 L704.19,259.00 L704.69,259.00 L705.19,259.00 L705.69,259.00 L706.19,259.00 L706.69,259.00 L707.19,259.00 L707.69,259.00 L708.19,259.00 L708.69,259.00 L709.19,259.00 L709.69,259.00 L710.19,259.00 L710.69,259.00 L711.19,259.00 L711.69,259.00 L712.19,259.00 L712.69,259.00 L713.19,259.00 L713.69,259.00 L714.19,259.00 L714.69,259.00 L715.19,259.00 L715.69,259.00 L716.19,259.00 L716.69,259.00 L717.19,259.00 L717.69,259.00 L718.19,259.00 L718.68,259.00 L719.18,259.00 L719.68,259.00 L720.18,259.00 L720.68,259.00 L721.18,259.00 L721.68,259.00 L722.18,259.00 L722.68,259.00 L723.18,259.00 L723.68,259.00 L724.18,259.00 L724.68,259.00 L725.18,259.00 L725.68,259.00 L726.18,259.00 L726.68,259.00 L727.18,259.00 L727.68,259.00" fill="none" stroke="#ff0080" stroke-width="1.9" stroke-linejoin="round" stroke-linecap="round" />
<path d="M469.50,258.96 L469.79,258.96 L470.07,258.95 L470.36,258.94 L470.65,258.94 L470.93,258.93 L471.22,258.92 L471.51,258.91 L471.80,258.90 L472.08,258.89 L472.37,258.88 L472.66,258.87 L472.94,258.85 L473.23,258.84 L473.52,258.82 L473.80,258.80 L474.09,258.78 L474.38,258.76 L474.66,258.74 L474.95,258.71 L475.24,258.68 L475.53,258.65 L475.81,258.61 L476.10,258.57 L476.39,258.53 L476.67,258.49 L476.96,258.44 L477.25,258.39 L477.53,258.33 L477.82,258.27 L478.11,258.20 L478.39,258.13 L478.68,258.05 L478.97,257.97 L479.26,257.88 L479.54,257.78 L479.83,257.68 L480.12,257.57 L480.40,257.45 L480.69,257.32 L480.98,257.18 L481.26,257.03 L481.55,256.88 L481.84,256.71 L482.12,256.53 L482.41,256.34 L482.70,256.13 L482.99,255.91 L483.27,255.68 L483.56,255.44 L483.85,255.18 L484.13,254.90 L484.42,254.60 L484.71,254.29 L484.99,253.96 L485.28,253.61 L485.57,253.24 L485.85,252.86 L486.14,252.44 L486.43,252.01 L486.72,251.56 L487.00,251.08 L487.29,250.57 L487.58,250.04 L487.86,249.48 L488.15,248.90 L488.44,248.28 L488.72,247.64 L489.01,246.97 L489.30,246.27 L489.58,245.53 L489.87,244.77 L490.16,243.96 L490.45,243.13 L490.73,242.26 L491.02,241.35 L491.31,240.41 L491.59,239.43 L491.88,238.42 L492.17,237.36 L492.45,236.27 L492.74,235.13 L493.03,233.96 L493.31,232.74 L493.60,231.48 L493.89,230.18 L494.18,228.84 L494.46,227.46 L494.75,226.03 L495.04,224.56 L495.32,223.05 L495.61,221.49 L495.90,219.89 L496.18,218.24 L496.47,216.55 L496.76,214.82 L497.04,213.04 L497.33,211.22 L497.62,209.36 L497.91,207.46 L498.19,205.51 L498.48,203.52 L498.77,201.49 L499.05,199.42 L499.34,197.31 L499.63,195.16 L499.91,192.97 L500.20,190.74 L500.49,188.47 L500.77,186.17 L501.06,183.84 L501.35,181.47 L501.64,179.07 L501.92,176.64 L502.21,174.18 L502.50,171.68 L502.78,169.17 L503.07,166.62 L503.36,164.05 L503.64,161.46 L503.93,158.85 L504.22,156.22 L504.50,153.57 L504.79,150.90 L505.08,148.22 L505.37,145.53 L505.65,142.83 L505.94,140.12 L506.23,137.40 L506.51,134.67 L506.80,131.95 L507.09,129.22 L507.37,126.49 L507.66,123.76 L507.95,121.04 L508.23,118.32 L508.52,115.62 L508.81,112.92 L509.10,110.23 L509.38,107.56 L509.67,104.91 L509.96,102.27 L510.24,99.65 L510.53,97.06 L510.82,94.48 L511.10,91.93 L511.39,89.41 L511.68,86.92 L511.96,84.46 L512.25,82.02 L512.54,79.63 L512.83,77.26 L513.11,74.93 L513.40,72.64 L513.69,70.39 L513.97,68.18 L514.26,66.01 L514.55,63.88 L514.83,61.80 L515.12,59.76 L515.41,57.77 L515.69,55.83 L515.98,53.93 L516.27,52.08 L516.56,50.29 L516.84,48.54 L517.13,46.84 L517.42,45.19 L517.70,43.60 L517.99,42.06 L518.28,40.57 L518.56,39.14 L518.85,37.76 L519.14,36.43 L519.42,35.16 L519.71,33.94 L520.00,32.78 L520.29,31.67 L520.57,30.61 L520.86,29.61 L521.15,28.66 L521.43,27.76 L521.72,26.92 L522.01,26.14 L522.29,25.40 L522.58,24.72 L522.87,24.09 L523.15,23.50 L523.44,22.97 L523.73,22.50 L524.02,22.06 L524.30,21.68 L524.59,21.35 L524.88,21.06 L525.16,20.82 L525.45,20.63 L525.74,20.48 L526.02,20.37 L526.31,20.31 L526.60,20.29 L527.10,20.37 L527.61,20.63 L528.11,21.05 L528.61,21.62 L529.12,22.35 L529.62,23.24 L530.13,24.26 L530.63,25.43 L531.13,26.73 L531.64,28.16 L532.14,29.72 L532.65,31.39 L533.15,33.18 L533.65,35.08 L534.16,37.08 L534.66,39.17 L535.16,41.36 L535.67,43.64 L536.17,45.99 L536.68,48.43 L537.18,50.93 L537.68,53.50 L538.19,56.13 L538.69,58.82 L539.20,61.56 L539.70,64.34 L540.20,67.17 L540.71,70.04 L541.21,72.93 L541.72,75.86 L542.22,78.81 L542.72,81.78 L543.23,84.77 L543.73,87.78 L544.24,90.79 L544.74,93.81 L545.24,96.83 L545.75,99.85 L546.25,102.87 L546.76,105.88 L547.26,108.89 L547.76,111.88 L548.27,114.86 L548.77,117.82 L549.28,120.76 L549.78,123.69 L550.28,126.59 L550.79,129.47 L551.29,132.32 L551.80,135.14 L552.30,137.94 L552.80,140.70 L553.31,143.43 L553.81,146.13 L554.32,148.79 L554.82,151.42 L555.32,154.02 L555.83,156.57 L556.33,159.09 L556.84,161.57 L557.34,164.01 L557.84,166.41 L558.35,168.77 L558.85,171.09 L559.36,173.37 L559.86,175.61 L560.36,177.81 L560.87,179.97 L561.37,182.09 L561.88,184.16 L562.38,186.20 L562.88,188.19 L563.39,190.14 L563.89,192.05 L564.39,193.92 L564.90,195.76 L565.40,197.55 L565.91,199.30 L566.41,201.01 L566.91,202.68 L567.42,204.32 L567.92,205.91 L568.43,207.47 L568.93,208.99 L569.43,210.48 L569.94,211.92 L570.44,213.34 L570.95,214.71 L571.45,216.06 L571.95,217.36 L572.46,218.64 L572.96,219.88 L573.47,221.09 L573.97,222.27 L574.47,223.41 L574.98,224.53 L575.48,225.61 L575.99,226.67 L576.49,227.69 L576.99,228.69 L577.50,229.66 L578.00,230.60 L578.51,231.52 L579.01,232.41 L579.51,233.27 L580.02,234.11 L580.52,234.93 L581.03,235.72 L581.53,236.49 L582.03,237.23 L582.54,237.96 L583.04,238.66 L583.55,239.34 L584.05,240.00 L584.55,240.64 L585.06,241.26 L585.56,241.86 L586.07,242.44 L586.57,243.01 L587.07,243.55 L587.58,244.08 L588.08,244.60 L588.59,245.09 L589.09,245.57 L589.59,246.04 L590.10,246.49 L590.60,246.93 L591.11,247.35 L591.61,247.76 L592.11,248.15 L592.62,248.54 L593.12,248.91 L593.62,249.26 L594.13,249.61 L594.63,249.94 L595.14,250.27 L595.64,250.58 L596.14,250.88 L596.65,251.17 L597.15,251.46 L597.66,251.73 L598.16,251.99 L598.66,252.25 L599.17,252.49 L599.67,252.73 L600.18,252.96 L600.68,253.18 L601.18,253.39 L601.69,253.60 L602.19,253.80 L602.70,253.99 L603.20,254.17 L603.70,254.35 L604.21,254.53 L604.71,254.69 L605.22,254.85 L605.72,255.01 L606.22,255.16 L606.73,255.30 L607.23,255.44 L607.74,255.57 L608.24,255.70 L608.74,255.83 L609.25,255.95 L609.75,256.06 L610.26,256.17 L610.76,256.28 L611.26,256.38 L611.77,256.48 L612.27,256.58 L612.78,256.67 L613.28,256.76 L613.78,256.85 L614.29,256.93 L614.79,257.01 L615.30,257.09 L615.80,257.16 L616.30,257.23 L616.81,257.30 L617.31,257.36 L617.82,257.43 L618.32,257.49 L618.82,257.55 L619.33,257.60 L619.83,257.66 L620.34,257.71 L620.84,257.76 L621.34,257.81 L621.85,257.86 L622.35,257.90 L622.86,257.94 L623.36,257.99 L623.86,258.03 L624.37,258.06 L624.87,258.10 L625.37,258.14 L625.88,258.17 L626.38,258.20 L626.89,258.24 L627.39,258.27 L627.89,258.29 L628.40,258.32 L628.90,258.35 L629.41,258.38 L629.91,258.40 L630.41,258.42 L630.92,258.45 L631.42,258.47 L631.93,258.49 L632.43,258.51 L632.93,258.53 L633.44,258.55 L633.94,258.57 L634.45,258.59 L634.95,258.60 L635.45,258.62 L635.96,258.63 L636.46,258.65 L636.97,258.66 L637.47,258.68 L637.97,258.69 L638.48,258.70 L638.98,258.71 L639.49,258.73 L639.99,258.74 L640.49,258.75 L641.00,258.76 L641.50,258.77 L642.01,258.78 L642.51,258.79 L643.01,258.80 L643.52,258.80 L644.02,258.81 L644.53,258.82 L645.03,258.83 L645.53,258.83 L646.04,258.84 L646.54,258.85 L647.05,258.85 L647.55,258.86 L648.05,258.87 L648.56,258.87 L649.06,258.88 L649.57,258.88 L650.07,258.89 L650.57,258.89 L651.08,258.90 L651.58,258.90 L652.09,258.90 L652.59,258.91 L653.09,258.91 L653.60,258.92 L654.10,258.92 L654.60,258.92 L655.11,258.93 L655.61,258.93 L656.12,258.93 L656.62,258.93 L657.12,258.94 L657.63,258.94 L658.13,258.94 L658.64,258.94 L659.14,258.95 L659.64,258.95 L660.15,258.95 L660.65,258.95 L661.16,258.96 L661.66,258.96 L662.16,258.96 L662.67,258.96 L663.17,258.96 L663.68,258.96 L664.18,258.97 L664.68,258.97 L665.19,258.97 L665.69,258.97 L666.20,258.97 L666.70,258.97 L667.20,258.97 L667.71,258.97 L668.21,258.98 L668.72,258.98 L669.22,258.98 L669.72,258.98 L670.23,258.98 L670.73,258.98 L671.24,258.98 L671.74,258.98 L672.24,258.98 L672.75,258.98 L673.25,258.98 L673.76,258.98 L674.26,258.99 L674.76,258.99 L675.27,258.99 L675.77,258.99 L676.28,258.99 L676.78,258.99 L677.28,258.99 L677.79,258.99 L678.29,258.99 L678.80,258.99 L679.30,258.99 L679.80,258.99 L680.31,258.99 L680.81,258.99 L681.32,258.99 L681.82,258.99 L682.32,258.99 L682.83,258.99 L683.33,258.99 L683.83,258.99 L684.34,258.99 L684.84,258.99 L685.35,258.99 L685.85,258.99 L686.35,258.99 L686.86,259.00 L687.36,259.00 L687.87,259.00 L688.37,259.00 L688.87,259.00 L689.38,259.00 L689.88,259.00 L690.39,259.00 L690.89,259.00 L691.39,259.00 L691.90,259.00 L692.40,259.00 L692.91,259.00 L693.41,259.00 L693.91,259.00 L694.42,259.00 L694.92,259.00 L695.43,259.00 L695.93,259.00 L696.43,259.00 L696.94,259.00 L697.44,259.00 L697.95,259.00 L698.45,259.00 L698.95,259.00 L699.46,259.00 L699.96,259.00 L700.47,259.00 L700.97,259.00 L701.47,259.00 L701.98,259.00 L702.48,259.00 L702.99,259.00 L703.49,259.00 L703.99,259.00 L704.50,259.00 L705.00,259.00 L705.51,259.00 L706.01,259.00 L706.51,259.00 L707.02,259.00 L707.52,259.00 L708.03,259.00 L708.53,259.00 L709.03,259.00 L709.54,259.00 L710.04,259.00 L710.55,259.00 L711.05,259.00 L711.55,259.00 L712.06,259.00 L712.56,259.00 L713.06,259.00 L713.57,259.00 L714.07,259.00 L714.58,259.00 L715.08,259.00 L715.58,259.00 L716.09,259.00 L716.59,259.00 L717.10,259.00 L717.60,259.00 L718.10,259.00 L718.61,259.00 L719.11,259.00 L719.62,259.00 L720.12,259.00 L720.62,259.00 L721.13,259.00 L721.63,259.00 L722.14,259.00 L722.64,259.00 L723.14,259.00 L723.65,259.00 L724.15,259.00 L724.66,259.00 L725.16,259.00 L725.66,259.00 L726.17,259.00 L726.67,259.00 L727.18,259.00 L727.68,259.00" fill="none" stroke="#ff8000" stroke-width="1.9" stroke-linejoin="round" stroke-linecap="round" />
<path d="M469.50,258.70 L492.05,258.71 L516.37,258.72 L541.39,258.74 L566.07,258.76 L589.32,258.77 L610.11,258.77 L627.35,258.75 L640.00,258.70 L642.88,258.69 L645.43,258.71 L647.68,258.73 L649.68,258.74 L651.47,258.74 L653.10,258.70 L654.59,258.63 L656.00,258.50 L656.71,258.41 L657.35,258.33 L657.95,258.23 L658.50,258.12 L659.02,258.00 L659.52,257.86 L660.01,257.69 L660.50,257.50 L660.92,257.30 L661.33,257.09 L661.73,256.85 L662.11,256.61 L662.47,256.34 L662.83,256.07 L663.17,255.79 L663.50,255.50 L663.80,255.23 L664.08,254.95 L664.35,254.67 L664.61,254.38 L664.86,254.08 L665.11,253.75 L665.35,253.39 L665.60,253.00 L665.96,252.38 L666.31,251.71 L666.65,250.98 L666.98,250.21 L667.31,249.38 L667.62,248.50 L667.92,247.58 L668.20,246.60 L668.60,244.96 L668.96,243.14 L669.29,241.17 L669.59,239.10 L669.87,236.95 L670.14,234.76 L670.42,232.57 L670.70,230.40 L671.02,227.92 L671.33,225.30 L671.64,222.61 L671.94,219.90 L672.23,217.23 L672.52,214.65 L672.81,212.22 L673.10,210.00 L673.30,208.62 L673.50,207.38 L673.69,206.23 L673.88,205.11 L674.08,203.99 L674.28,202.80 L674.48,201.48 L674.70,200.00 L675.10,197.02 L675.53,193.63 L675.99,189.93 L676.45,186.01 L676.93,181.96 L677.40,177.88 L677.86,173.86 L678.30,170.00 L678.72,166.21 L679.14,162.36 L679.55,158.48 L679.95,154.62 L680.36,150.80 L680.76,147.07 L681.18,143.46 L681.60,140.00 L681.95,137.28 L682.30,134.63 L682.65,132.04 L683.00,129.52 L683.36,127.05 L683.73,124.65 L684.11,122.30 L684.50,120.00 L684.84,118.13 L685.20,116.32 L685.56,114.56 L685.93,112.84 L686.30,111.14 L686.67,109.44 L687.04,107.73 L687.40,106.00 L687.75,104.23 L688.09,102.43 L688.43,100.63 L688.77,98.82 L689.11,97.04 L689.46,95.30 L689.82,93.61 L690.20,92.00 L690.52,90.71 L690.84,89.44 L691.16,88.21 L691.49,87.01 L691.84,85.83 L692.20,84.69 L692.59,83.58 L693.00,82.50 L693.38,81.60 L693.78,80.76 L694.19,79.94 L694.62,79.15 L695.06,78.36 L695.52,77.55 L696.00,76.70 L696.50,75.80 L697.17,74.55 L697.87,73.20 L698.61,71.79 L699.37,70.35 L700.16,68.92 L700.96,67.53 L701.77,66.21 L702.60,65.00 L703.31,64.06 L704.05,63.18 L704.79,62.35 L705.55,61.55 L706.32,60.77 L707.08,59.99 L707.84,59.21 L708.60,58.40" fill="none" stroke="#008000" stroke-width="1.9" stroke-linejoin="round" stroke-linecap="round" />
<path d="M469.50,258.70 L490.88,258.72 L514.14,258.76 L538.16,258.81 L561.80,258.86 L583.93,258.89 L603.43,258.88 L619.16,258.82 L630.00,258.70 L631.85,258.67 L633.43,258.65 L634.79,258.63 L635.97,258.61 L637.04,258.58 L638.03,258.52 L639.00,258.43 L640.00,258.30 L640.71,258.19 L641.38,258.07 L642.01,257.94 L642.62,257.79 L643.21,257.63 L643.80,257.44 L644.39,257.23 L645.00,257.00 L645.68,256.72 L646.37,256.43 L647.05,256.11 L647.73,255.77 L648.41,255.39 L649.08,254.97 L649.75,254.51 L650.40,254.00 L651.21,253.28 L652.03,252.46 L652.84,251.57 L653.63,250.62 L654.40,249.63 L655.15,248.62 L655.85,247.60 L656.50,246.60 L657.08,245.63 L657.61,244.64 L658.10,243.64 L658.56,242.61 L659.00,241.59 L659.43,240.55 L659.86,239.52 L660.30,238.50 L660.73,237.52 L661.16,236.57 L661.57,235.64 L661.98,234.70 L662.38,233.73 L662.79,232.71 L663.19,231.60 L663.60,230.40 L664.26,228.26 L664.95,225.80 L665.66,223.14 L666.36,220.35 L667.03,217.55 L667.66,214.83 L668.22,212.28 L668.70,210.00 L668.97,208.62 L669.19,207.39 L669.38,206.24 L669.55,205.12 L669.71,203.99 L669.88,202.80 L670.07,201.48 L670.30,200.00 L670.77,197.02 L671.31,193.63 L671.89,189.93 L672.51,186.01 L673.14,181.96 L673.78,177.88 L674.41,173.86 L675.00,170.00 L675.57,166.21 L676.14,162.36 L676.71,158.48 L677.28,154.62 L677.84,150.80 L678.40,147.07 L678.95,143.46 L679.50,140.00 L679.94,137.28 L680.37,134.63 L680.80,132.05 L681.22,129.54 L681.65,127.08 L682.08,124.67 L682.53,122.31 L683.00,120.00 L683.41,118.07 L683.84,116.19 L684.27,114.36 L684.71,112.56 L685.15,110.79 L685.60,109.03 L686.05,107.27 L686.50,105.50 L686.94,103.76 L687.38,101.99 L687.82,100.22 L688.27,98.46 L688.72,96.74 L689.18,95.07 L689.64,93.49 L690.10,92.00 L690.45,90.94 L690.79,89.92 L691.13,88.94 L691.47,88.00 L691.83,87.09 L692.19,86.21 L692.58,85.34 L693.00,84.50 L693.39,83.79 L693.79,83.12 L694.21,82.49 L694.64,81.88 L695.09,81.26 L695.54,80.62 L696.02,79.94 L696.50,79.20 L697.18,78.09 L697.88,76.87 L698.60,75.58 L699.35,74.25 L700.13,72.92 L700.93,71.63 L701.75,70.41 L702.60,69.30 L703.38,68.42 L704.19,67.60 L705.02,66.83 L705.87,66.10 L706.73,65.38 L707.60,64.67 L708.45,63.95 L709.30,63.20" fill="none" stroke="#008080" stroke-width="1.9" stroke-linejoin="round" stroke-linecap="round" />
<path d="M469.50,258.70 L489.60,258.72 L511.54,258.78 L534.21,258.85 L556.51,258.92 L577.35,258.96 L595.61,258.95 L610.19,258.87 L620.00,258.70 L621.49,258.65 L622.73,258.61 L623.79,258.57 L624.70,258.52 L625.53,258.46 L626.32,258.39 L627.13,258.31 L628.00,258.20 L628.79,258.09 L629.57,257.98 L630.32,257.86 L631.06,257.73 L631.80,257.58 L632.53,257.41 L633.26,257.22 L634.00,257.00 L634.79,256.74 L635.58,256.48 L636.36,256.19 L637.15,255.87 L637.94,255.52 L638.72,255.13 L639.51,254.70 L640.30,254.20 L641.32,253.50 L642.35,252.72 L643.40,251.88 L644.44,250.96 L645.47,249.98 L646.48,248.92 L647.46,247.79 L648.40,246.60 L649.55,244.94 L650.66,243.12 L651.73,241.17 L652.76,239.11 L653.75,236.98 L654.70,234.79 L655.62,232.59 L656.50,230.40 L657.42,227.95 L658.29,225.37 L659.13,222.70 L659.92,220.00 L660.66,217.33 L661.36,214.76 L662.01,212.33 L662.60,210.10 L662.97,208.71 L663.29,207.46 L663.58,206.30 L663.85,205.18 L664.12,204.04 L664.39,202.83 L664.68,201.50 L665.00,200.00 L665.62,197.02 L666.28,193.63 L666.99,189.92 L667.72,186.00 L668.47,181.95 L669.22,177.87 L669.97,173.86 L670.70,170.00 L671.43,166.20 L672.16,162.32 L672.90,158.41 L673.64,154.52 L674.37,150.69 L675.10,146.96 L675.81,143.38 L676.50,140.00 L677.02,137.50 L677.54,135.09 L678.04,132.75 L678.54,130.48 L679.04,128.28 L679.53,126.13 L680.01,124.04 L680.50,122.00 L680.89,120.37 L681.27,118.80 L681.65,117.28 L682.03,115.79 L682.41,114.33 L682.79,112.88 L683.19,111.44 L683.60,110.00 L684.00,108.64 L684.41,107.27 L684.84,105.92 L685.26,104.58 L685.70,103.27 L686.13,101.97 L686.57,100.72 L687.00,99.50 L687.37,98.49 L687.73,97.50 L688.10,96.53 L688.47,95.58 L688.84,94.65 L689.22,93.75 L689.60,92.86 L690.00,92.00 L690.35,91.26 L690.71,90.53 L691.07,89.82 L691.43,89.13 L691.81,88.45 L692.19,87.78 L692.59,87.13 L693.00,86.50 L693.40,85.93 L693.81,85.41 L694.23,84.90 L694.66,84.41 L695.11,83.90 L695.56,83.38 L696.02,82.81 L696.50,82.20 L697.19,81.23 L697.90,80.14 L698.64,78.97 L699.39,77.76 L700.17,76.55 L700.97,75.38 L701.78,74.28 L702.60,73.30 L703.32,72.55 L704.07,71.86 L704.83,71.22 L705.60,70.60 L706.38,70.01 L707.16,69.42 L707.93,68.82 L708.70,68.20" fill="none" stroke="#0000a0" stroke-width="1.9" stroke-linejoin="round" stroke-linecap="round" />
</g>
<line x1="525.70" y1="11.00" x2="525.70" y2="31.30" stroke="#8000ff" stroke-width="2.0" />
<line x1="535.30" y1="224.60" x2="535.30" y2="246.10" stroke="#8000ff" stroke-width="2.0" />
<text x="476.60" y="50.80" font-size="10.00" text-anchor="start" fill="#ff0000" font-weight="bold" textLength="32.40" lengthAdjust="spacingAndGlyphs" >10 nm</text>
<line x1="503.40" y1="60.50" x2="489.00" y2="60.50" stroke="#ff0000" stroke-width="2.0" />
<path d="M481.4,60.5 L492.8,56.9 L490.6,60.5 L492.8,64.1 Z" fill="#ff0000"/>
<text x="690.10" y="116.90" font-size="10.00" text-anchor="start" fill="#008000" font-weight="bold" textLength="32.90" lengthAdjust="spacingAndGlyphs" >15 nm</text>
<line x1="694.60" y1="128.80" x2="708.00" y2="128.80" stroke="#008000" stroke-width="2.0" />
<path d="M716.0,128.8 L704.4,125.2 L706.6,128.8 L704.4,132.4 Z" fill="#008000"/>
<text x="578.50" y="162.90" font-size="10.00" text-anchor="start" fill="#ff8000" font-weight="normal" textLength="30.80" lengthAdjust="spacingAndGlyphs" >0.16 K</text>
<text x="578.50" y="177.25" font-size="10.00" text-anchor="start" fill="#ff0080" font-weight="normal" textLength="30.80" lengthAdjust="spacingAndGlyphs" >0.17 K</text>
<text x="578.50" y="191.60" font-size="10.00" text-anchor="start" fill="#ff0000" font-weight="normal" textLength="30.80" lengthAdjust="spacingAndGlyphs" >0.18 K</text>
<text x="578.50" y="205.95" font-size="10.00" text-anchor="start" fill="#800000" font-weight="normal" textLength="30.80" lengthAdjust="spacingAndGlyphs" >0.19 K</text>
<text x="578.50" y="220.30" font-size="10.00" text-anchor="start" fill="#800080" font-weight="normal" textLength="30.80" lengthAdjust="spacingAndGlyphs" >0.20 K</text>
<text x="689.30" y="167.40" font-size="10.00" text-anchor="start" fill="#008000" font-weight="normal" textLength="24.30" lengthAdjust="spacingAndGlyphs" >0.2 K</text>
<text x="689.30" y="181.60" font-size="10.00" text-anchor="start" fill="#008080" font-weight="normal" textLength="24.30" lengthAdjust="spacingAndGlyphs" >0.4 K</text>
<text x="689.30" y="195.80" font-size="10.00" text-anchor="start" fill="#0000a0" font-weight="normal" textLength="24.30" lengthAdjust="spacingAndGlyphs" >0.6 K</text>
<text x="672.80" y="34.90" font-size="10.50" text-anchor="start" fill="#000" font-weight="normal" textLength="38.30" lengthAdjust="spacingAndGlyphs" >crossing</text>
<text x="676.60" y="48.70" font-size="10.50" text-anchor="start" fill="#000" font-weight="normal" textLength="23.00" lengthAdjust="spacingAndGlyphs" >point</text>
<path d="M686.4,56.1 L679.7,77.4 L686.0,87.5" fill="none" stroke="#000" stroke-width="1.3"/>
<path d="M690.0,92.6 L683.4,88.6 L687.6,85.0 Z" fill="#000"/>
<rect x="578.30" y="12.20" width="85.30" height="92.20" fill="#fff" stroke="none"/>
<line x1="578.50" y1="104.40" x2="578.50" y2="109.40" stroke="#111" stroke-width="1.0" />
<line x1="578.50" y1="12.20" x2="578.50" y2="17.20" stroke="#111" stroke-width="1.0" />
<text x="578.30" y="121.10" font-size="10.00" text-anchor="middle" fill="#000" font-weight="normal" >0.0</text>
<line x1="590.50" y1="104.40" x2="590.50" y2="107.40" stroke="#111" stroke-width="1.0" />
<line x1="590.50" y1="12.20" x2="590.50" y2="15.20" stroke="#111" stroke-width="1.0" />
<line x1="602.50" y1="104.40" x2="602.50" y2="109.40" stroke="#111" stroke-width="1.0" />
<line x1="602.50" y1="12.20" x2="602.50" y2="17.20" stroke="#111" stroke-width="1.0" />
<text x="602.64" y="121.10" font-size="10.00" text-anchor="middle" fill="#000" font-weight="normal" >0.2</text>
<line x1="614.50" y1="104.40" x2="614.50" y2="107.40" stroke="#111" stroke-width="1.0" />
<line x1="614.50" y1="12.20" x2="614.50" y2="15.20" stroke="#111" stroke-width="1.0" />
<line x1="626.50" y1="104.40" x2="626.50" y2="109.40" stroke="#111" stroke-width="1.0" />
<line x1="626.50" y1="12.20" x2="626.50" y2="17.20" stroke="#111" stroke-width="1.0" />
<text x="626.98" y="121.10" font-size="10.00" text-anchor="middle" fill="#000" font-weight="normal" >0.4</text>
<line x1="639.50" y1="104.40" x2="639.50" y2="107.40" stroke="#111" stroke-width="1.0" />
<line x1="639.50" y1="12.20" x2="639.50" y2="15.20" stroke="#111" stroke-width="1.0" />
<line x1="651.50" y1="104.40" x2="651.50" y2="109.40" stroke="#111" stroke-width="1.0" />
<line x1="651.50" y1="12.20" x2="651.50" y2="17.20" stroke="#111" stroke-width="1.0" />
<text x="651.32" y="121.10" font-size="10.00" text-anchor="middle" fill="#000" font-weight="normal" >0.6</text>
<line x1="663.50" y1="104.40" x2="663.50" y2="107.40" stroke="#111" stroke-width="1.0" />
<line x1="663.50" y1="12.20" x2="663.50" y2="15.20" stroke="#111" stroke-width="1.0" />
<line x1="573.30" y1="104.50" x2="578.30" y2="104.50" stroke="#111" stroke-width="1.0" />
<line x1="658.60" y1="104.50" x2="663.60" y2="104.50" stroke="#111" stroke-width="1.0" />
<text x="569.40" y="106.70" font-size="10.00" text-anchor="end" fill="#000" font-weight="normal" >0</text>
<line x1="575.30" y1="90.50" x2="578.30" y2="90.50" stroke="#111" stroke-width="1.0" />
<line x1="660.60" y1="90.50" x2="663.60" y2="90.50" stroke="#111" stroke-width="1.0" />
<line x1="573.30" y1="75.50" x2="578.30" y2="75.50" stroke="#111" stroke-width="1.0" />
<line x1="658.60" y1="75.50" x2="663.60" y2="75.50" stroke="#111" stroke-width="1.0" />
<text x="569.40" y="78.16" font-size="10.00" text-anchor="end" fill="#000" font-weight="normal" >2</text>
<line x1="575.30" y1="61.50" x2="578.30" y2="61.50" stroke="#111" stroke-width="1.0" />
<line x1="660.60" y1="61.50" x2="663.60" y2="61.50" stroke="#111" stroke-width="1.0" />
<line x1="573.30" y1="47.50" x2="578.30" y2="47.50" stroke="#111" stroke-width="1.0" />
<line x1="658.60" y1="47.50" x2="663.60" y2="47.50" stroke="#111" stroke-width="1.0" />
<text x="569.40" y="49.62" font-size="10.00" text-anchor="end" fill="#000" font-weight="normal" >4</text>
<line x1="575.30" y1="33.50" x2="578.30" y2="33.50" stroke="#111" stroke-width="1.0" />
<line x1="660.60" y1="33.50" x2="663.60" y2="33.50" stroke="#111" stroke-width="1.0" />
<line x1="573.30" y1="18.50" x2="578.30" y2="18.50" stroke="#111" stroke-width="1.0" />
<line x1="658.60" y1="18.50" x2="663.60" y2="18.50" stroke="#111" stroke-width="1.0" />
<text x="569.40" y="21.08" font-size="10.00" text-anchor="end" fill="#000" font-weight="normal" >6</text>
<rect x="578.30" y="12.20" width="85.30" height="92.20" fill="none" stroke="#000" stroke-width="1.4"/>
<text x="581.30" y="140.70" font-size="10.60" text-anchor="start" fill="#000" font-weight="normal" textLength="78.00" lengthAdjust="spacingAndGlyphs" >Temperature (K)</text>
<text transform="translate(556.4,70.5) rotate(-90)" font-size="10.5">B<tspan font-size="7" dy="3.5">max</tspan><tspan dy="-3.5" font-size="11"> (T)</tspan></text>
<path d="M581.00,98.00 L581.44,97.06 L581.87,96.13 L582.30,95.20 L582.73,94.26 L583.16,93.33 L583.60,92.39 L584.05,91.45 L584.50,90.50 L584.98,89.51 L585.47,88.51 L585.97,87.52 L586.48,86.51 L586.98,85.51 L587.49,84.50 L588.00,83.50 L588.50,82.50 L589.00,81.49 L589.50,80.48 L590.01,79.46 L590.51,78.44 L591.01,77.44 L591.51,76.44 L592.01,75.46 L592.50,74.50 L592.94,73.65 L593.38,72.82 L593.82,72.01 L594.26,71.20 L594.69,70.41 L595.13,69.61 L595.56,68.81 L596.00,68.00" fill="none" stroke="#0000ff" stroke-width="1.2" stroke-linejoin="round" stroke-linecap="round" stroke-dasharray="1 1.6"/>
<circle cx="597.40" cy="65.40" r="2.2" fill="#ff00ff" stroke="#8000ff" stroke-width="0.8"/>
<circle cx="599.50" cy="61.80" r="2.2" fill="#ff00ff" stroke="#8000ff" stroke-width="0.8"/>
<circle cx="602.40" cy="58.10" r="2.2" fill="#ff00ff" stroke="#8000ff" stroke-width="0.8"/>
<circle cx="604.60" cy="54.30" r="2.2" fill="#ff00ff" stroke="#8000ff" stroke-width="0.8"/>
<circle cx="606.90" cy="51.40" r="2.2" fill="#ff00ff" stroke="#8000ff" stroke-width="0.8"/>
<circle cx="609.60" cy="48.00" r="2.2" fill="#ff00ff" stroke="#8000ff" stroke-width="0.8"/>
<circle cx="612.00" cy="45.30" r="2.2" fill="#ff00ff" stroke="#8000ff" stroke-width="0.8"/>
<circle cx="614.30" cy="42.80" r="2.2" fill="#ff00ff" stroke="#8000ff" stroke-width="0.8"/>
<circle cx="617.00" cy="40.50" r="2.2" fill="#ff00ff" stroke="#8000ff" stroke-width="0.8"/>
<circle cx="619.50" cy="38.40" r="2.2" fill="#ff00ff" stroke="#8000ff" stroke-width="0.8"/>
<circle cx="625.40" cy="35.90" r="2.2" fill="#ff00ff" stroke="#8000ff" stroke-width="0.8"/>
<circle cx="631.20" cy="33.20" r="2.2" fill="#ff00ff" stroke="#8000ff" stroke-width="0.8"/>
<circle cx="637.00" cy="30.00" r="2.2" fill="#ff00ff" stroke="#8000ff" stroke-width="0.8"/>
<circle cx="643.60" cy="27.40" r="2.2" fill="#ff00ff" stroke="#8000ff" stroke-width="0.8"/>
<circle cx="649.30" cy="24.60" r="2.2" fill="#ff00ff" stroke="#8000ff" stroke-width="0.8"/>
<circle cx="654.70" cy="22.10" r="2.2" fill="#ff00ff" stroke="#8000ff" stroke-width="0.8"/>
<line x1="620.80" y1="43.50" x2="620.80" y2="70.50" stroke="#000" stroke-width="1.4" />
<text x="617.30" y="82.60" font-size="10.50" text-anchor="start" fill="#000" font-weight="bold" >T</text>
<text x="624.20" y="87.80" font-size="8.60" text-anchor="start" fill="#000" font-weight="bold" >c</text>
</svg>
</body></html>
